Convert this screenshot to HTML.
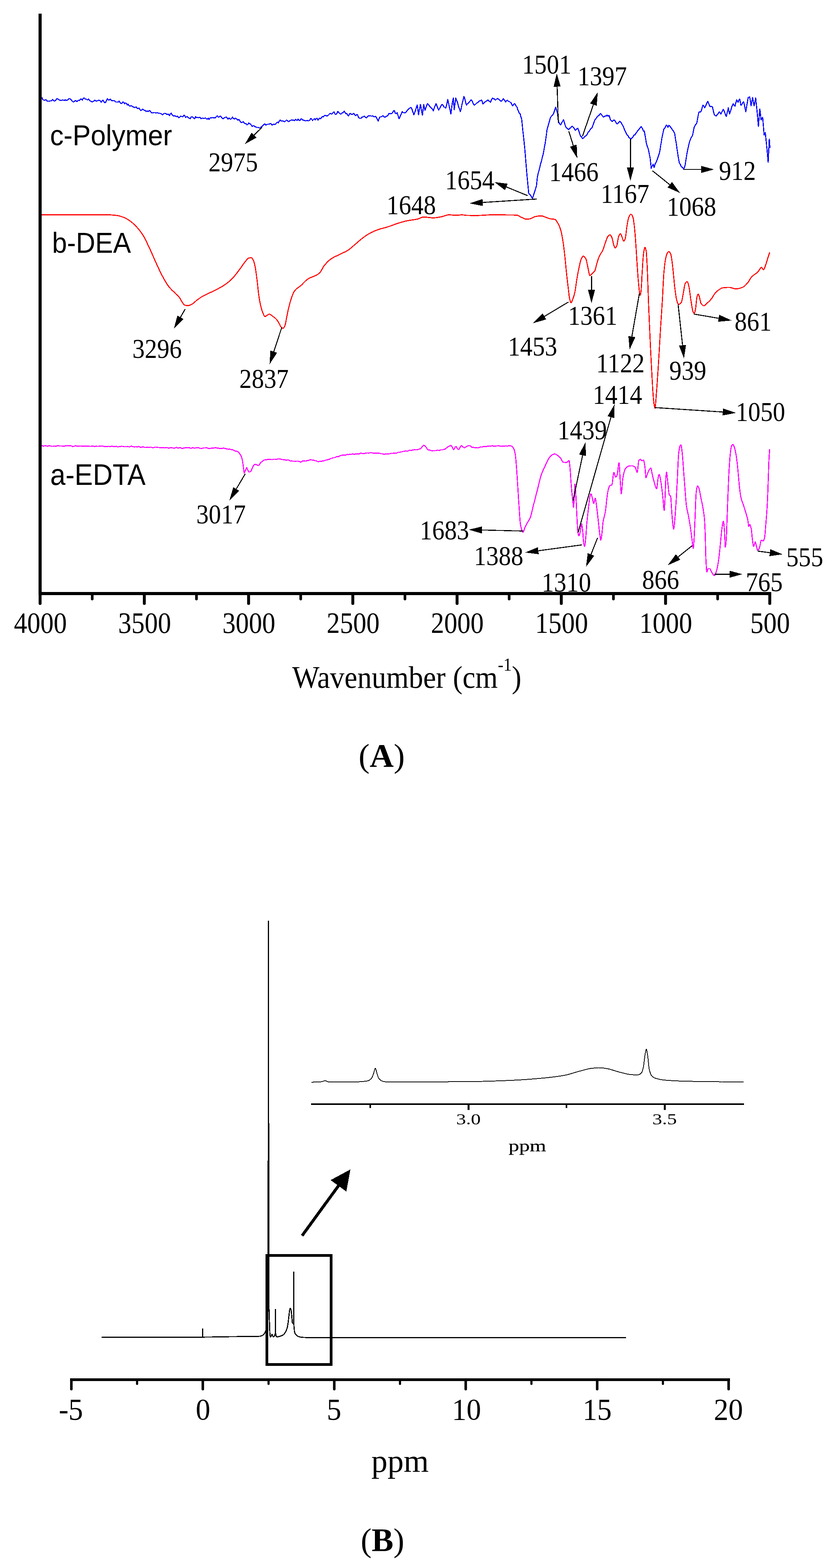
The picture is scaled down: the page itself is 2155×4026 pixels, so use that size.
<!DOCTYPE html>
<html lang="en">
<head>
<meta charset="utf-8">
<title>FTIR and NMR spectra</title>
<style>
html,body{margin:0;padding:0;background:#fff;}
body{width:2155px;height:4026px;overflow:hidden;}
svg{display:block;}
text{fill:#000;}
</style>
</head>
<body>
<svg width="2155" height="4026" viewBox="0 0 2155 4026" shape-rendering="crispEdges" style="display:block">
<rect width="2155" height="4026" fill="#fff"/>
<g id="chartA">
<polyline points="107.3,250 109.6,254.8 111.9,256.9 114.2,257.3 116.5,256.2 118.9,256.7 121.2,259.6 123.5,259.8 125.8,260.1 128.1,259.4 130.4,258.9 132.7,258.7 135,255.4 137.3,257.6 139.6,259.5 142,259 144.3,255.4 146.6,253.1 148.9,254.4 151.2,255.8 153.5,257.4 155.8,257.6 158.1,258.1 160.4,256.7 162.8,257 165.1,258 167.4,256.1 169.7,258 172,257.4 174.3,256.2 176.6,253.5 178.9,253 181.2,255 183.6,257.2 185.9,260.1 188.2,261.6 190.5,261.1 192.8,258.8 195.1,258.4 197.4,260.9 199.7,258.6 202,257.6 204.3,258.2 206.7,254.6 209,254.5 211.3,257.3 213.6,252.4 215.9,251.7 218.2,254.2 220.5,253.8 222.8,255.8 225.1,256.6 227.5,254.3 229.8,257.2 232.1,259.7 234.4,260.3 236.7,261.7 239,260.6 241.3,259.5 243.6,257.2 245.9,259.1 248.2,259.3 250.6,258.6 252.9,257.7 255.2,257.6 257.5,258.9 259.8,262.5 262.1,259.1 264.4,257.1 266.7,260.6 269,263.7 271.4,262.8 273.7,257.3 276,253.2 278.3,256.6 280.6,257 282.9,254.6 285.2,257 287.5,258.9 289.8,258.2 292.2,258.1 294.5,259.2 296.8,261.9 299.1,262.2 301.4,261.8 303.7,262.4 306,259.7 308.3,263 310.6,265.9 312.9,265.6 315.3,261.8 317.6,262.2 319.9,266.6 322.2,264.5 324.5,265.3 326.8,269.5 329.1,267.7 331.4,270.8 333.7,272.7 336.1,271.4 338.4,272.3 340.7,274.1 343,274.4 345.3,276.3 347.6,275.2 349.9,274.7 352.2,278.2 354.5,278.9 356.8,277.4 359.2,280.5 361.5,284 363.8,282.4 366.1,280 368.4,281.7 370.7,283.3 373,283.5 375.3,286.5 377.6,284.6 380,286.4 382.3,284.9 384.6,283.7 386.9,286.9 389.2,289.5 391.5,290 393.8,289.3 396.1,288.9 398.4,289.1 400.8,290.2 403.1,289.6 405.4,289.9 407.7,291.1 410,290.8 412.3,291.7 414.6,292.4 416.9,294.9 419.2,293.8 421.5,291.2 423.9,290.9 426.2,291.8 428.5,293.9 430.8,293.1 433.1,293.3 435.4,297.1 437.7,292 440,290.7 442.3,295 444.7,297.3 447,297.9 449.3,297.3 451.6,298.8 453.9,299.5 456.2,298 458.5,302.2 460.8,302 463.1,298.7 465.4,298.8 467.8,299.2 470.1,299.6 472.4,295.6 474.7,296.9 477,301.7 479.3,299.8 481.6,299.7 483.9,302.7 486.2,303.7 488.6,304.9 490.9,300.5 493.2,299.8 495.5,301.4 497.8,303.2 500.1,305.1 502.4,299.4 504.7,301.9 507,301.4 509.4,302.4 511.7,300.9 514,301.5 516.3,304.8 518.6,303.6 520.9,302.9 523.2,304.2 525.5,303.7 527.8,302.7 530.1,305.1 532.5,305.9 534.8,303.1 537.1,306.6 539.4,303.1 541.7,302.5 544,302.5 546.3,301.8 548.6,303 550.9,302.6 553.3,302.7 555.6,299.4 557.9,297.2 560.2,300.5 562.5,300.2 564.8,298.7 567.1,298.1 569.4,302.2 571.7,304.2 574,305 576.4,302 578.7,301.3 581,300.5 583.3,302.6 585.6,306 587.9,302.9 590.2,304.7 592.5,306.4 594.8,304.2 597.2,300.4 599.5,304.3 601.8,305.4 604.1,303.3 606.4,304.7 608.7,305.9 611,308.4 613.3,306.8 615.6,309.2 617.9,313.3 620.3,315 622.6,313.6 624.9,312.5 627.2,316.1 629.5,317.3 631.8,317.3 634.1,320.3 636.4,319.7 638.7,315.7 641.1,317.7 643.4,318 645.7,321.8 648,324.3 650.3,322.7 652.6,323.3 654.9,325.7 657.2,325.7 659.5,327.5 661.9,326.9 664.2,327.5 666.5,328.8 668.8,329 671.1,324.9 673.4,324.7 675.7,321.3 678,319.3 680.3,318 682.6,321.3 685,319.9 687.3,318.9 689.6,319.1 691.9,318.5 694.2,317.3 696.5,318 698.8,321.2 701.1,319.8 703.4,318.8 705.8,320 708.1,318.4 710.4,315.2 712.7,313.7 715,315.4 717.3,310.9 719.6,308.3 721.9,310.3 724.2,311 726.5,310.4 728.9,311.9 731.2,312.6 733.5,310.5 735.8,308.4 738.1,309.3 740.4,312.5 742.7,311.5 745,309.3 747.3,308.9 749.7,307.6 752,309 754.3,308.5 756.6,309.7 758.9,306.6 761.2,308.1 763.5,309 765.8,305.8 768.1,308.7 770.5,309.5 772.8,305.2 775.1,305.4 777.4,308.4 779.7,308.2 782,309.3 784.3,310.3 786.6,310 788.9,309.2 791.2,310.3 793.6,310 795.9,308.7 798.2,304 800.5,306.1 802.8,309.4 805.1,306.8 807.4,304.7 809.7,308.1 812,304.1 814.4,303.8 816.7,308.8 819,305 821.3,303.3 823.6,305.1 825.9,301.2 828.2,299.5 830.5,300.2 832.8,297.2 835.1,296.3 837.5,297.2 839.8,298 842.1,296.6 844.4,294.7 846.7,292.1 849,291.3 851.3,292.9 853.6,291.8 855.9,288.4 858.3,287.2 860.6,292.9 862.9,294 865.2,291.7 867.5,286.1 869.8,288.2 872.1,291.2 874.4,293.1 876.7,292.3 879.1,289.7 881.4,289.5 883.7,285.4 886,288.3 888.3,291.8 890.6,291.3 892.9,295.4 895.2,298.1 897.5,293.2 899.8,291.1 902.2,293.2 904.5,293.8 906.8,292.6 909.1,291 911.4,295.3 913.7,297.1 916,294.6 918.3,294.4 920.6,300.9 923,303.1 925.3,304.1 927.6,303.7 929.9,300.4 932.2,300.9 934.5,298.5 936.8,298.8 939.1,301.7 941.4,302.5 943.7,299.4 946.1,297.5 948.4,297.5 950.7,297 953,298 955.3,298.2 957.6,297.6 959.9,299.5 962.2,300.1 964.5,298.6 966.9,301.4 969.2,306.7 971.5,311.1 973.8,304.4 976.1,300 978.4,300 980.7,299.4 983,297.1 985.3,298.5 987.7,300.9 990,300.3 992.3,298.5 994.6,298 996.9,295.2 999.2,291.2 1001.5,292.3 1003.8,291.4 1006.1,292 1008.4,289.5 1010.8,284.1 1013.1,284.1 1015.4,291 1017.7,291.5 1020,289.1 1025,305 1026.6,302.3 1028.2,297.5 1029.8,294.3 1031.4,290.6 1033,286.7 1034.6,288.8 1036.2,289.2 1037.8,289 1040,290.1 1041,290.2 1042.6,287.9 1044.2,286.2 1045.9,283.7 1048,281.9 1049.1,280.8 1050.7,279.2 1052.3,277.6 1053.9,276.5 1055.5,276.5 1056.7,276.7 1058.7,282.1 1060.3,287 1061.9,290.8 1063,294.9 1065.1,289.1 1066.7,285.1 1068.3,279.5 1069.9,274.5 1071.7,269.7 1073.1,279.4 1075,294.7 1076.3,285.7 1077.9,279.4 1080,267.8 1081.1,274 1082.7,284 1085,296 1085.9,288.2 1088.3,268.1 1090.8,279.9 1091.7,283 1094,276.3 1095.6,271.8 1098,265.8 1100.4,268.5 1102,270.4 1103.6,273.4 1106,275.9 1108.4,277.4 1110,279.9 1111.6,281.2 1113,285.1 1114.8,279.1 1116.4,274.4 1118,270.8 1120,266.2 1121.2,268.4 1122.8,273.1 1124.4,277.2 1126.7,282.9 1127.6,280.7 1129.3,278.6 1130.9,274.9 1132.5,272 1134.1,269.9 1135,268.2 1137.3,269.3 1138.9,271.9 1140.5,274.9 1142.1,275.1 1143.7,276.7 1145,278 1146.9,270.3 1148.5,262.8 1150,255 1151.7,262.8 1153.3,270.3 1154.9,277.9 1156.5,285 1158,292.9 1159.7,281 1161.3,267.4 1162.9,258.8 1164.3,251.7 1166.7,281.7 1167.7,273.9 1169.3,261.6 1170.7,251.7 1172.6,257.3 1174,260 1175.8,265.2 1177.4,272.2 1179,277.3 1180.6,280.6 1182.3,286.9 1183.8,282.3 1185.4,273.9 1187,266.2 1188.6,260.5 1190.2,253.7 1191.7,247.8 1193.4,252.2 1195,258 1196.6,265 1198.3,270 1199.8,266.9 1201.4,266.1 1203,264.7 1204.6,263.1 1206.2,261.8 1207.8,259 1210,256 1211,257.7 1212.7,259.6 1214.3,263.2 1215.9,267.2 1218.3,270.1 1220.7,268.2 1222.3,266.8 1223.9,265.2 1225.5,263.8 1227.1,263 1228.7,261.7 1230.3,260.6 1231.9,258.8 1233.5,258.6 1235.1,258.1 1236.7,256.6 1238.3,259.3 1240,266.5 1241.5,266.4 1243.1,264.3 1244.7,262.4 1246.3,261.3 1247.9,261 1249.5,259.1 1251.1,258.7 1253.3,256.7 1254.4,258.2 1256,259.5 1257.6,260.4 1260,262.5 1262.4,256.3 1264,253.4 1265,251.8 1267.2,253.5 1268.8,253.6 1270.4,254.9 1272,256.9 1273.3,256.8 1275.2,254.8 1276.8,253.4 1278.3,252.8 1280,255 1281.6,255.1 1283.2,256.8 1284.8,258.2 1286.7,259.9 1288,259.3 1289.6,258.2 1291.2,255.2 1293.3,253.3 1294.5,255.7 1296.1,257.7 1298.3,261.6 1299.3,261.3 1300.9,258.4 1303.3,257.2 1305.7,259.9 1307.3,261.1 1308.9,260.8 1310.5,262.5 1312.1,263.6 1313.3,265 1315.3,269.7 1316.7,271.8 1318.5,269.1 1320.1,267 1321.7,266.1 1323.3,268 1324.9,270.6 1326.5,273.5 1328,275 1329.7,280.9 1331.3,284.3 1332.9,288.7 1335,291.9 1336.2,292.6 1337.8,299.4 1340,306.1 1341,315.9 1343,336.7 1344.2,346.1 1345.8,361 1348,382.8 1349,394.1 1350.6,414.6 1353,443.1 1355.4,469.1 1357,485.6 1358,496.6 1360.2,498.8 1361.8,500.3 1363,501.8 1365,504.9 1366.6,508.6 1367.7,509.3 1369.8,502.9 1371.7,496.7 1373,493.4 1374.6,488.2 1376.2,482.6 1378,476.8 1380,456.7 1381.1,451.1 1382.7,443.4 1384.3,438.7 1385.9,432 1388,422.9 1389.1,418.6 1390.7,414.4 1392.3,406.5 1393.9,400.3 1395,396.7 1397.1,385.7 1398.7,375.8 1400,369.8 1401.9,356.3 1403.5,345.6 1405,333.3 1406.7,327.2 1408.3,321.2 1409.9,316 1411.7,309.8 1413.1,303.9 1415,300 1416.3,298.9 1417.9,296.4 1419.6,295.2 1421.7,291.7 1422.8,288.5 1424.4,284 1426,278.9 1427.3,275.1 1429.2,281.8 1430.8,287.1 1431.7,290 1434,307.6 1435,313.1 1437.2,317 1438.8,319.8 1440,320.7 1442,317.5 1443.6,313.8 1445.2,311.6 1447.3,307.3 1448.4,310 1450,315.8 1451.6,321.5 1453,325.2 1454.8,328.2 1456.4,329.2 1458,329.9 1460,333 1461.3,332.4 1462.9,329.8 1464.5,329.3 1466.1,328.1 1467.7,325.5 1470,324 1472.5,326.6 1474.1,328.3 1475.7,331.7 1478,334.8 1478.9,333.4 1480.5,331.5 1482.1,330.8 1484,329 1485.3,332.7 1486.9,336.5 1488.5,341.4 1490,346.8 1491.7,350.2 1493.3,350.7 1494.9,354.2 1496,356.2 1498.1,354.3 1499.7,353.7 1501.3,351.3 1503,349.9 1504.6,348.9 1506.2,347.7 1507.8,345.9 1509.4,342.1 1511,338.6 1513,337.9 1514.2,335.3 1515.8,333.1 1517.4,330.4 1519,329.3 1520.6,327.8 1521.7,325.1 1523.8,319.6 1525.4,315 1527,310.5 1528,308 1530.2,305.3 1531.8,303.2 1533.4,300.4 1535,299.6 1536.7,296.2 1538.2,296.1 1539.8,295.4 1541.4,292.5 1542.7,291.4 1544.7,294.3 1546.3,296.4 1547.9,297.9 1550,300.7 1551.1,300.2 1552.7,298.7 1554.3,298.3 1555.9,297.8 1558,297.3 1559.1,295.6 1560.7,297.1 1562.3,298.4 1563.9,296.7 1565,297.8 1567.1,304.7 1568,308.1 1570.3,310 1571.9,312 1573,311.8 1575.1,309.4 1576.7,308 1578,308 1579.9,310.6 1581.5,313.4 1583.1,316.5 1585,318.1 1586.4,317.8 1588,315.7 1589.6,313.8 1592,311.6 1594.4,314.2 1596,315.7 1598,319.8 1599.2,321.4 1600.8,324.2 1602.4,328.5 1604,332.8 1605.6,335.7 1606.7,338.1 1608.8,343.2 1610.4,345.9 1612,347.6 1613.6,349.1 1615,353 1616.8,354.3 1618.4,355.2 1620,355.9 1621.7,356.2 1623.2,354.6 1624.8,352.9 1626.5,350.3 1628.1,346.7 1630,346.5 1631.3,346 1632.9,342.4 1634.5,340.9 1636.7,338 1637.7,336.1 1639.3,334.5 1640.9,332.7 1642.5,329.8 1644.1,328 1645.7,326.7 1646.7,325.1 1648.9,327.9 1650.5,331.2 1652.1,334.8 1653.7,337.6 1655,336.7 1656.9,347.8 1658.5,356.5 1660,366.6 1661.7,373.3 1663.3,377.7 1664.9,382.1 1666.7,389.9 1668.2,397.9 1670,406.7 1671.4,419.2 1672.7,432.4 1674.6,426.9 1676.2,424.8 1677.7,421.7 1680,430.2 1681,427.4 1682.6,421.3 1684.2,418.8 1685.8,415.3 1688,410 1689,407.3 1690.6,402.1 1692.2,397.4 1693.8,392.4 1695,386.6 1697,373.1 1698.6,365.2 1700,355.1 1701.8,346.9 1703.4,339.2 1705,331.4 1706.6,329.9 1708.2,327.9 1709.9,324.2 1711.7,321.1 1713.1,322.5 1714.7,324.3 1715.7,327.1 1718,321.8 1719.5,322.4 1721.1,324.8 1722.7,327 1725,329.2 1725.9,331.9 1727.5,333.6 1729.1,335.7 1730.7,338.7 1733,343 1733.9,349.4 1735.5,359.9 1736.7,365.3 1738.7,380.5 1741,396 1741.9,401.9 1743.5,410.7 1745,419 1746.7,421 1748.3,423.9 1750,428.1 1751.6,429.5 1753.2,429.7 1754.8,432.2 1755.7,434.2 1758,430.1 1760,423.1 1761.2,414.6 1763,403 1764.4,394.7 1766.7,382.9 1767.6,379.2 1769.2,371.7 1770.8,365.4 1772,361.6 1774,356.6 1775.6,352.7 1777.2,350.7 1779,347 1780.4,340.2 1782,331.1 1783,326.7 1785.2,323 1786.8,319.6 1788.4,318.3 1790,315 1791.7,305 1793.3,296.6 1795,287.9 1796.5,287.1 1798.1,287.7 1800,287.2 1801.3,284.4 1802.9,278.7 1804.5,272.7 1805.7,269.9 1807.7,272.3 1810,276.6 1810.9,275.5 1812.5,272.1 1814.1,268.1 1815.7,264.1 1818,259.9 1818.9,262.5 1820.5,265.9 1823,272.9 1825.3,274.1 1826.9,273.3 1828.5,273.5 1830,274.8 1831.7,282.6 1833.4,289.6 1835,295.1 1836.6,296.5 1838.2,297.3 1840,298.1 1841.4,295 1843,293.4 1844.6,292.3 1846.2,288.7 1848,287 1849.4,290.1 1851.7,292.9 1852.6,290.1 1854.2,287.4 1855.8,284 1857.7,280.7 1859,282.9 1860.6,286.6 1862.2,291.1 1863.8,295.4 1865.7,299.1 1867,293 1868.6,286.5 1870.7,276.8 1871.8,282.3 1874,293 1875.1,288.8 1876.7,284.3 1878.3,278.9 1879.9,273.4 1881.5,270 1883,266.6 1884.7,269 1886.3,270.5 1888,272.8 1889.5,265.3 1891.1,260.7 1892,256.1 1894.3,259.9 1895.7,262.8 1897.5,257.9 1899.1,255.2 1900,254 1903,270.2 1903.9,270.3 1905.5,267.7 1907.1,264.7 1908.7,262.2 1910,261.4 1911.9,268.5 1913.5,277.3 1915.7,287 1916.8,280.6 1918.4,269.7 1920,260.8 1921.7,250.1 1923.2,249.8 1924.8,249.6 1925.7,248.8 1928,263.2 1929,271.6 1931.2,260.8 1933,250.1 1934.4,257.1 1936,266.7 1937,271.6 1939.2,261.3 1941,251.7 1942.4,264.9 1944,279.9 1945,290 1948,324.8 1950.4,294.9 1951.7,280 1953.6,296.1 1955,307.9 1956.8,304.7 1959,301.7 1960.1,315.1 1961.7,334.6 1962.7,346.8 1965.7,340.2 1968.1,363.9 1970,382.8 1971.3,395.9 1973,416.7 1974.5,386.9 1976,356.8 1977.7,380.1" fill="none" stroke="#0000ff" stroke-width="2.7" stroke-linejoin="round"/>
<polyline points="107,551.7 108.5,551.7 110,551.7 111.5,551.7 113,551.7 114.5,551.7 116,551.7 117.5,551.7 119,551.7 120.5,551.7 122,551.7 123.5,551.7 125,551.7 126.5,551.7 128,551.7 129.5,551.7 131,551.7 132.5,551.7 134,551.7 135.5,551.7 137,551.7 138.5,551.7 140,551.7 141.5,551.7 143,551.7 144.6,551.7 146.1,551.7 147.6,551.7 149.1,551.7 150.6,551.7 152.1,551.7 153.6,551.7 155.1,551.7 156.6,551.7 158.1,551.7 159.6,551.7 161.1,551.7 162.6,551.7 164.1,551.7 165.6,551.7 167.1,551.7 168.6,551.7 170.1,551.7 171.6,551.7 173.1,551.7 174.6,551.7 176.1,551.7 177.6,551.7 179.1,551.7 180.6,551.7 182.1,551.7 183.6,551.7 185.1,551.7 186.6,551.7 188.1,551.7 189.6,551.7 191.1,551.7 192.6,551.7 194.1,551.7 195.6,551.7 197.1,551.7 198.6,551.7 200.1,551.7 201.6,551.7 203.1,551.7 204.6,551.7 206.1,551.7 207.6,551.7 209.1,551.7 210.6,551.7 212.1,551.7 213.6,551.7 215.1,551.7 216.6,551.7 218.1,551.7 219.7,551.7 221.2,551.7 222.7,551.7 224.2,551.7 225.7,551.7 227.2,551.7 228.7,551.7 230.2,551.7 231.7,551.7 233.2,551.7 234.7,551.7 236.2,551.7 237.7,551.7 239.2,551.7 240.7,551.7 242.2,551.7 243.7,551.7 245.2,551.7 246.7,551.7 248.2,551.7 249.7,551.7 251.2,551.7 252.7,551.7 254.2,551.7 255.7,551.7 257.2,551.7 258.7,551.7 260.2,551.7 261.7,551.7 263.2,551.7 264.7,551.7 266.2,551.7 267.7,551.7 269.2,551.7 270.7,551.7 272.2,551.7 273.7,551.7 275.2,551.7 276.7,551.7 278.2,551.7 279.7,551.7 280,551.7 281.2,551.7 282.7,551.7 284.2,551.8 285.7,551.9 287.2,552 288.7,552.1 290.2,552.2 291.7,552.4 293.2,552.5 294.8,552.7 296.3,552.8 297.8,553 299.3,553.2 300,553.3 300.8,553.4 302.3,553.6 303.8,553.9 305.3,554.2 306.8,554.6 308.3,555 309.8,555.4 311.3,555.9 312.8,556.4 314.3,556.9 315.8,557.4 316.7,557.7 317.3,557.9 318.8,558.5 320.3,559.2 321.8,559.9 323.3,560.7 324.8,561.5 326.3,562.4 327.8,563.3 329.3,564.3 330.8,565.2 332.3,566.2 333,566.7 333.8,567.3 335.3,568.3 336.8,569.5 338.3,570.7 339.8,571.9 341.3,573.3 342.8,574.6 344.3,576 345.8,577.5 347.3,579 348.8,580.5 350,581.7 350.3,582 351.8,583.6 353.3,585.3 354.8,587 356.3,588.8 357.8,590.7 359.3,592.6 360.8,594.5 362.3,596.6 363.8,598.7 365.3,600.9 366.7,603 366.8,603.2 368.3,605.7 369.9,608.3 371.4,611 372.9,613.9 374.4,616.9 375.9,620 377.4,623.1 378.9,626.3 380.4,629.4 381.9,632.6 383,635 383.4,635.8 384.9,639 386.4,642.3 387.9,645.6 389.4,649 390.9,652.4 392.4,655.9 393.9,659.3 395.4,662.7 396.9,666.1 398.4,669.5 399.9,672.8 400,673 401.4,676 402.9,679.3 404.4,682.6 405.9,685.9 407.4,689.1 408.9,692.3 410.4,695.5 411.9,698.6 413.4,701.7 414.9,704.6 416.4,707.5 416.7,708 417.9,710.2 419.4,713 420.9,715.7 422.4,718.4 423.9,721 425.4,723.6 426.9,726.1 428.4,728.5 429.9,730.7 431.4,732.9 432.9,734.9 433,735 434.4,736.8 435.9,738.6 437.4,740.3 438.9,741.9 440.4,743.5 441.9,745 443.4,746.5 445,747.9 446.5,749.4 448,750.9 449.5,752.4 450,753 451,754 452.5,755.4 454,756.9 455.5,758.3 457,759.7 458.5,761.2 460,762.9 461.5,764.7 461.7,765 463,766.9 464.5,769.6 466,772.5 467.5,775.3 469,777.7 470,779 470.5,779.5 472,781.2 473.5,782.7 475,783.7 476,784 476.5,784.1 478,784.2 479.5,784.4 481,784.5 482.5,784.5 483,784.5 484,784.4 485.5,784.2 487,783.7 488.5,783.1 490,782.5 491.5,781.7 493,781 493,781 494.5,780.2 496,779.1 497.5,778 499,776.7 500.5,775.3 502,774 503.5,772.6 505,771.3 506.5,770.1 506.7,770 508,769 509.5,767.9 511,766.9 512.5,765.8 514,764.8 515.5,763.8 517,762.8 518.6,761.9 520,761 520.1,761 521.6,760.1 523.1,759.3 524.6,758.5 526.1,757.8 527.6,757 529.1,756.3 530.6,755.6 532.1,754.9 533.6,754.2 535.1,753.5 536.6,752.8 538.1,752.1 539.6,751.4 541.1,750.7 542.6,750 544.1,749.3 545.6,748.6 546.7,748 547.1,747.8 548.6,747 550.1,746.3 551.6,745.5 553.1,744.8 554.6,744 556.1,743.3 557.6,742.5 559.1,741.8 560.6,741 562.1,740.2 563.6,739.4 565.1,738.6 566.6,737.8 568.1,737 569.6,736.1 571.1,735.2 572.6,734.3 574.1,733.4 575.6,732.4 576.7,731.7 577.1,731.4 578.6,730.4 580.1,729.3 581.6,728.2 583.1,727.1 584.6,725.9 586.1,724.6 587.6,723.4 589.1,722.1 590.6,720.8 592.1,719.4 593.7,718 595.2,716.5 596.7,715 596.7,715 598.2,713.5 599.7,711.8 601.2,710.1 602.7,708.3 604.2,706.5 605.7,704.6 607.2,702.6 608.7,700.7 610.2,698.7 611.7,696.7 613,695 613.2,694.8 614.7,692.8 616.2,690.7 617.7,688.6 619.2,686.5 620.7,684.3 622.2,682.2 623.7,680 625.2,677.9 626.7,675.9 628.2,673.9 629.7,672.1 630,671.7 631.2,670.2 632.7,668.2 634.2,666.2 635.7,664.5 637.2,663.4 638,663 638.7,662.8 640.2,662.4 641.7,662 643.2,661.8 644.7,661.7 645,661.7 646.2,662.1 647.7,663.5 649.2,665.5 650,666.7 650.7,668 652.2,672.2 653.7,677.6 655,683 655.2,684.1 656.7,692.6 658.2,703.3 659.7,714.7 660,716.7 661.2,727.2 662.7,741.2 664.2,754.5 665,760 665.7,764.8 667.2,773.6 668.8,781.2 670,786.7 670.3,787.7 671.8,793.4 673.3,798.4 674.8,802.4 675,803 676.3,805.9 677.8,809.3 679.3,811.8 680.7,812.7 680.8,812.7 682.3,812.2 683.8,811.2 685.3,810 686.7,809 686.8,809 688.3,808.1 689.8,807.2 691.3,806.7 691.7,806.7 692.8,806.8 694.3,807.5 695.8,808.4 697.3,809.6 698.8,810.8 700,811.7 700.3,811.9 701.8,813 703.3,814 704.8,815.2 706.3,816.4 707.8,817.8 709.3,819.3 710,820 710.8,820.9 712.3,823 713.8,825.3 715.3,827.7 716.7,830 716.8,830.2 718.3,833 719.8,836.2 721.3,839 722.7,840.7 722.8,840.8 724.3,842 725.8,842.8 726.7,843 727.3,842.9 728.8,841.6 730.3,839.3 731.7,836.7 731.8,836.4 733.3,831 734.8,823.1 736.3,814.8 736.7,813 737.8,807.3 739.3,800 740,797 740.8,793.4 742.3,787 743.9,781 745.4,775.3 746.9,770.2 748,766.7 748.4,765.7 749.9,761.5 751.4,757.4 752.9,753.8 754.4,750.5 755.9,747.9 756.7,746.7 757.4,745.9 758.9,744.2 760.4,742.6 761.9,741.3 763.4,740.1 764.9,739 766.4,738 767.9,736.9 769.4,735.9 770.9,734.7 772.4,733.5 773,733 773.9,732.2 775.4,730.8 776.9,729.3 778.4,727.7 779.9,726.2 781.4,724.7 782.9,723.1 784.4,721.7 785.9,720.3 787.4,719 788.9,717.8 790,717 790.4,716.7 791.9,715.8 793.4,714.9 794.9,714.1 796.4,713.4 797.9,712.7 799.4,712.1 800.9,711.5 802.4,710.9 803.9,710.3 805.4,709.7 806.9,709.1 808.4,708.5 809.9,707.8 811.4,707.1 812.9,706.4 814.4,705.5 815.9,704.6 817.4,703.6 819,702.5 820,701.7 820.5,701.3 822,699.6 823.5,697.5 825,695 826.5,692.4 828,689.7 829.5,687 831,684.5 832.5,682.4 833,681.7 834,680.5 835.5,678.8 837,677.1 838.5,675.4 840,673.8 841.5,672.3 843,670.8 844.5,669.4 846,668.1 847.5,666.9 849,665.7 850,665 850.5,664.7 852,663.7 853.5,662.7 855,661.9 856.5,661 858,660.2 859.5,659.5 861,658.7 862.5,658 864,657.3 865.5,656.6 867,655.9 868.5,655.2 870,654.5 871.5,653.7 873,653 873,653 874.5,652.2 876,651.5 877.5,650.8 879,650.1 880.5,649.4 882,648.7 883.5,648 885,647.3 886.5,646.6 888,645.8 889.5,645 891,644.2 892.6,643.3 893,643 894.1,642.3 895.6,641.3 897.1,640.2 898.6,639 900.1,637.8 901.6,636.6 903.1,635.3 904.6,634 906.1,632.7 907.6,631.4 909.1,630 910.6,628.7 912.1,627.5 913,626.7 913.6,626.2 915.1,625 916.6,623.7 918.1,622.4 919.6,621.1 921.1,619.8 922.6,618.4 924.1,617.1 925.6,615.9 927.1,614.6 928.6,613.4 930.1,612.2 931.6,611 933,610 933.1,609.9 934.6,608.8 936.1,607.8 937.6,606.7 939.1,605.7 940.6,604.7 942.1,603.7 943.6,602.7 945.1,601.8 946.6,600.8 948.1,599.9 949.6,599.1 951.1,598.3 952.6,597.5 953,597.3 954.1,596.7 955.6,596 957.1,595.3 958.6,594.6 960.1,594 961.6,593.3 963.1,592.7 964.6,592.1 966.1,591.5 967.7,590.9 969.2,590.4 970.7,589.8 972.2,589.3 973,589 973.7,588.8 975.2,588.3 976.7,587.8 978.2,587.4 979.7,587 981.2,586.6 982.7,586.2 984.2,585.8 985.7,585.4 987.2,585 988.7,584.6 990.2,584.2 991.7,583.8 993.2,583.3 994.7,582.9 996.2,582.5 996.7,582.3 997.7,582 999.2,581.5 1000.7,581 1002.2,580.4 1003.7,579.9 1005.2,579.4 1006.7,578.8 1008.2,578.2 1009.7,577.7 1011.2,577.1 1012.7,576.5 1014.2,576 1015.7,575.4 1017.2,574.9 1018.7,574.4 1020.2,573.9 1021.7,573.4 1023,573 1023.2,572.9 1024.7,572.5 1026.2,572 1027.7,571.6 1029.2,571.1 1030.7,570.7 1032.2,570.3 1033.7,569.9 1035.2,569.5 1036.7,569.1 1038.2,568.7 1039.7,568.3 1041.2,567.9 1042.8,567.6 1044.3,567.2 1045.8,566.9 1046.7,566.7 1047.3,566.6 1048.8,566.3 1050.3,566 1051.8,565.8 1053.3,565.5 1054.8,565.3 1056.3,565.1 1057.8,564.9 1059.3,564.7 1060.8,564.4 1062.3,564.2 1063.8,564 1065.3,563.8 1066.8,563.5 1068.3,563.3 1069.8,563 1071.3,562.7 1072.8,562.3 1073,562.3 1074.3,561.9 1075.8,561.4 1077.3,560.8 1078.8,560.1 1080.3,559.5 1081.8,558.8 1083.3,558.2 1084.8,557.8 1086.3,557.4 1087.8,557.3 1088,557.3 1089.3,557.3 1090.8,557.4 1092.3,557.5 1093.8,557.6 1095.3,557.7 1096.8,557.9 1098.3,558 1099.8,558.2 1101.3,558.4 1102.8,558.6 1104.3,558.7 1105.8,558.9 1107.3,559 1108.8,559.2 1110.3,559.2 1111.8,559.3 1113,559.3 1113.3,559.3 1114.8,559.3 1116.3,559.2 1117.9,559.1 1119.4,558.9 1120.9,558.7 1122.4,558.5 1123.9,558.3 1125.4,558 1126.9,557.8 1128.4,557.5 1129.9,557.3 1131.4,557 1132.9,556.7 1133,556.7 1134.4,556.4 1135.9,556.1 1137.4,555.6 1138.9,555.2 1140.4,554.7 1141.9,554.1 1143.4,553.6 1144.9,553.2 1146.4,552.7 1147.9,552.3 1149.4,552 1150.9,551.8 1152.4,551.7 1153,551.7 1153.9,551.7 1155.4,551.7 1156.9,551.8 1158.4,551.9 1159.9,552 1161.4,552.1 1162.9,552.2 1164.4,552.3 1165.9,552.4 1167.4,552.5 1168.9,552.6 1170.4,552.7 1171.9,552.7 1173,552.7 1173.4,552.7 1174.9,552.6 1176.4,552.5 1177.9,552.4 1179.4,552.2 1180.9,552.1 1182.4,551.9 1183.9,551.8 1185.4,551.7 1186.7,551.7 1186.9,551.7 1188.4,551.8 1189.9,551.9 1191.4,552.1 1193,552.3 1194.5,552.5 1196,552.7 1197.5,552.8 1199,553 1200,553 1200.5,553 1202,553 1203.5,553.1 1205,553.1 1206.5,553.1 1208,553.2 1209.5,553.2 1211,553.2 1212.5,553.2 1214,553.3 1215.5,553.3 1217,553.3 1218.5,553.3 1220,553.3 1221.5,553.3 1223,553.3 1223,553.3 1224.5,553.3 1226,553.3 1227.5,553.2 1229,553.2 1230.5,553.2 1232,553.1 1233.5,553 1235,553 1236.5,552.9 1238,552.8 1239.5,552.7 1241,552.6 1242.5,552.5 1244,552.4 1245.5,552.3 1247,552.3 1248.5,552.2 1250,552.1 1251.5,552 1253,551.9 1254.5,551.9 1256,551.8 1257.5,551.8 1259,551.7 1260.5,551.7 1262,551.7 1263,551.7 1263.5,551.7 1265,551.7 1266.6,551.7 1268.1,551.7 1269.6,551.7 1271.1,551.7 1272.6,551.7 1274.1,551.7 1275.6,551.7 1277.1,551.7 1278.6,551.7 1280.1,551.7 1281.6,551.7 1283.1,551.7 1284.6,551.7 1286.1,551.8 1287.6,551.8 1289.1,551.8 1290.6,551.8 1292.1,551.8 1293.6,551.8 1295.1,551.8 1296.6,551.8 1298.1,551.8 1299.6,551.9 1301.1,551.9 1302.6,551.9 1304.1,551.9 1305.6,551.9 1307.1,551.9 1308.6,552 1310.1,552 1311.6,552 1313.1,552 1314.6,552.1 1316.1,552.1 1317.6,552.1 1319.1,552.1 1320.6,552.2 1322.1,552.2 1323.6,552.2 1325.1,552.3 1326.6,552.3 1326.7,552.3 1328.1,552.5 1329.6,552.9 1331.1,553.5 1332.6,554.3 1334.1,555.1 1335.6,556 1337.1,556.9 1338.6,557.7 1340,558.3 1340.1,558.4 1341.7,559 1343.2,559.8 1344.7,560.5 1346.2,561.2 1347.7,561.9 1349.2,562.3 1350.7,562.6 1351.7,562.7 1352.2,562.7 1353.7,562.6 1355.2,562.5 1356.7,562.4 1358.2,562.2 1359.7,562 1361.2,561.8 1361.7,561.7 1362.7,561.5 1364.2,561 1365.7,560.3 1367.2,559.5 1368.7,558.7 1370.2,557.9 1371.7,557.1 1373.2,556.5 1374.7,556.1 1375,556 1376.2,555.8 1377.7,555.5 1379.2,555.3 1380.7,555.1 1382.2,554.8 1383.7,554.7 1385.2,554.5 1386.7,554.4 1388.2,554.3 1389.7,554.3 1390,554.3 1391.2,554.4 1392.7,554.6 1394.2,555 1395.7,555.5 1397.2,556.1 1398.7,556.7 1400.2,557.3 1401.7,557.9 1403,558.3 1403.2,558.4 1404.7,558.9 1406.2,559.5 1407.7,560.1 1409.2,560.6 1410.7,561.1 1412.2,561.5 1413,561.7 1413.7,561.8 1415.2,562 1416.8,562.2 1418.3,562.3 1419.8,562.5 1421.3,562.6 1422.8,562.8 1424.3,563.1 1425,563.3 1425.8,563.6 1427.3,564.8 1428.8,566.6 1430.3,568.8 1431.8,571.3 1433,573.3 1433.3,573.8 1434.8,576.5 1436.3,579.8 1437.8,583.5 1439.3,587.8 1440,590 1440.8,592.7 1442.3,599.1 1443.8,606.6 1445,613.3 1445.3,615 1446.8,624.8 1448.3,636 1449.8,648.3 1450,650 1451.3,662.1 1452.8,677.7 1454.3,693.3 1455,700 1455.8,707.4 1457.3,720.7 1458.8,733.4 1460,743.3 1460.3,745.9 1461.8,759.1 1463,766.7 1463.3,768 1464.8,773.9 1466.3,777.1 1466.7,777.3 1467.8,776.4 1469.3,773.3 1470.8,769.1 1471.7,766.7 1472.3,765 1473.8,760.7 1475.3,755.6 1476.7,750 1476.8,749.4 1478.3,740.5 1479.8,729.5 1481.3,718.9 1481.7,716.7 1482.8,710.1 1484.3,701.7 1485.8,694.1 1486.7,690 1487.3,687 1488.8,680 1490.3,673.5 1491.9,668 1493,665 1493.4,664.3 1494.9,661.2 1496.4,658.8 1497.9,657.7 1498,657.7 1499.4,658 1500.9,659.2 1502.4,660.9 1503.9,663.1 1505,665 1505.4,665.8 1506.9,671.3 1508.4,678.8 1509.9,686.2 1510,686.7 1511.4,693.6 1512.9,701.5 1514.4,706.7 1515,707.3 1515.9,707.1 1517.4,706.2 1518.9,704.7 1520.4,703.1 1521.7,701.7 1521.9,701.5 1523.4,700.2 1524.9,698.9 1526.4,697.3 1527.9,695.2 1528,695 1529.4,691.2 1530.9,685.1 1532.4,678.8 1533,676.7 1533.9,673.8 1535.4,669 1536.9,664.6 1538.4,660.5 1539.9,656.9 1540,656.7 1541.4,653.9 1542.9,651.5 1544.4,649.2 1545.9,646.9 1547.4,644.2 1548,643 1548.9,640.8 1550.4,636.7 1551.9,632.1 1553.4,627.4 1554.9,623.2 1555,623 1556.4,619 1557.9,614.7 1559.4,610.8 1560.9,607.7 1561.7,606.7 1562.4,605.9 1563.9,604.4 1565.4,603.3 1566.7,603 1567,603 1568.5,604.2 1570,606.5 1571.5,609.5 1571.7,610 1573,614 1574.5,620.9 1576,627.6 1576.7,630 1577.5,632.1 1579,635.7 1580,636.7 1580.5,636.6 1582,635.2 1583.5,632.7 1584,631.7 1585,628.4 1586.5,619.7 1588,610.9 1589,607 1589.5,605.9 1591,602.7 1592.5,600.5 1593.5,600 1594,600.2 1595.5,602.9 1597,606.8 1597.5,608 1598.5,610.7 1600,615.5 1601.5,618.7 1602,619 1603,618.5 1604.5,616.4 1606,613 1606,613 1607.5,604.1 1609,590.5 1610,583 1610.5,579.9 1612,570.9 1613.5,563.1 1615,558 1615,558 1616.5,554.7 1618,552 1619.5,550.3 1620.5,550 1621,550.1 1622.5,551.3 1624,553.6 1625.5,556.7 1625.5,556.8 1627,563.2 1628.5,574.1 1630,586.7 1630,587 1631.5,603.8 1633,624.5 1633.5,631 1634.5,647.1 1636,672.1 1637,686.7 1637.5,694.4 1639,714.8 1640.6,732.4 1641,736.7 1642.1,746.8 1643.6,757.5 1644,758.3 1645.1,756.1 1646.6,747.7 1646.7,746.7 1648.1,724.9 1649,706.7 1649.6,697.4 1651.1,672.3 1652.6,654 1652.7,653 1654.1,644 1655.6,636.9 1656.7,635 1657.1,635.2 1658.6,639.3 1660,646.7 1660.1,647.2 1661.6,669.2 1662.7,693 1663.1,701.7 1664.6,744.3 1665.5,770 1666.1,784.7 1667.6,820.6 1668,830 1669.1,854.4 1670.6,887.2 1672.1,917.9 1673,935 1673.6,945.9 1675.1,974 1676.6,1000.2 1678.1,1021.2 1679,1030 1679.6,1034.8 1681.1,1045 1682.3,1048.3 1682.6,1047.8 1684.1,1035.2 1685.6,1014.9 1686,1010 1687.1,995.8 1688.6,974.5 1690.1,951.5 1691.6,928 1691.7,926.7 1693.1,903.6 1694.6,877.9 1696.1,852.4 1696.7,843 1697.6,828.4 1699.1,805.7 1700.6,782.6 1701.7,765 1702.1,757 1703.6,725.8 1705,703 1705.1,701.4 1706.6,686 1708.1,673.7 1709.6,664.7 1710,663 1711.1,658.2 1712.6,653 1714.1,649.2 1715,648 1715.7,647.3 1717.2,646.2 1718,646 1718.7,646.2 1720.2,647.6 1721.7,650.1 1723,653 1723.2,653.4 1724.7,660.4 1726.2,671.5 1727.7,684 1728,686.7 1729.2,697.5 1730.7,713.6 1732.2,729.4 1733,736.7 1733.7,742.1 1735.2,753.8 1736.7,763.7 1738,770 1738.2,770.7 1739.7,775.9 1741.2,780 1742.7,781.7 1742.7,781.7 1744.2,781.5 1745.7,780.8 1747.2,779.7 1748.7,778.2 1750,776.7 1750.2,776.4 1751.7,771.3 1753.2,763.1 1754.7,754.5 1755,753 1756.2,746.3 1757.7,737.3 1759.2,730.1 1760,728 1760.7,726.9 1762.2,724.8 1763.7,723.4 1765,723 1765.2,723 1766.7,725.5 1768.2,730.2 1769,733 1769.7,736.1 1771.2,745.4 1772.7,756.8 1774.2,768 1775,773 1775.7,777.5 1777.2,787.1 1778.7,795.4 1780,800 1780.2,800.6 1781.7,803.8 1783,805 1783.2,804.9 1784.7,801.6 1786.2,795.2 1786.7,793 1787.7,784.4 1789.2,768.1 1790,763 1790.8,760 1792.3,755.7 1793,755 1793.8,755.5 1795.3,758.7 1796.7,763 1796.8,763.2 1798.3,770.5 1799.8,777.5 1800,778 1801.3,779.9 1802.8,781.9 1804.3,783.4 1805.8,784.4 1807.3,784.9 1808,785 1808.8,784.9 1810.3,784.2 1811.8,783 1813.3,781.5 1814.8,779.9 1816.3,778.4 1816.7,778 1817.8,777 1819.3,775.7 1820.8,774.3 1822.3,772.8 1823.8,771.3 1825.3,769.6 1826.7,768 1826.8,767.9 1828.3,765.9 1829.8,763.5 1831.3,761.1 1832.8,758.6 1834.3,756.2 1835.8,754.1 1836.7,753 1837.3,752.3 1838.8,750.7 1840.3,749.2 1841.8,747.8 1843.3,746.5 1844.8,745.3 1846.3,744.2 1846.7,744 1847.8,743.3 1849.3,742.3 1850.8,741.3 1852.3,740.5 1853.8,739.8 1855.3,739.3 1856.7,739 1856.8,739 1858.3,738.8 1859.8,738.7 1861.3,738.5 1862.8,738.4 1864.3,738.3 1865.9,738.2 1867.4,738.1 1868.9,738.1 1870.4,738 1871.9,738 1873,738 1873.4,738 1874.9,738.1 1876.4,738.4 1877.9,738.7 1879.4,739.2 1880.9,739.6 1882.4,740.1 1883.9,740.6 1885.4,741 1886.9,741.4 1888.4,741.6 1889.9,741.7 1890,741.7 1891.4,741.7 1892.9,741.6 1894.4,741.4 1895.9,741.1 1897.4,740.8 1898.9,740.5 1900.4,740.1 1901.9,739.6 1903.4,739.1 1904.9,738.6 1906.4,738.1 1906.7,738 1907.9,737.5 1909.4,736.6 1910.9,735.6 1912.4,734.4 1913.9,733.1 1915.4,731.6 1916.9,730 1918.4,728.4 1919.9,726.8 1920,726.7 1921.4,724.9 1922.9,722.6 1924.4,720.2 1925.9,717.6 1927.4,715.2 1928.9,713 1930,711.7 1930.4,711.2 1931.9,709.7 1933.4,708.4 1934.9,707.2 1936.4,706 1937.9,704.9 1939.4,703.9 1941,702.8 1942.5,701.7 1944,700.5 1945.5,699.2 1946.7,698 1947,697.7 1948.5,695.8 1950,693.4 1951.5,691 1953,688.9 1954.5,687.3 1956,686.7 1956,686.7 1957.5,688 1959,690.5 1960.5,692.5 1961,692.7 1962,692.1 1963.5,689.2 1965,684.9 1966.5,680.6 1966.7,680 1968,676.4 1969.5,671.6 1971,666.5 1972.5,661.6 1973,660 1974,657 1975.5,652.4 1977,648" fill="none" stroke="#ff0000" stroke-width="2.7" stroke-linejoin="round"/>
<polyline points="107,1144.6 109.2,1144.8 111.4,1145.6 113.6,1145 115.8,1144.2 118,1144.6 120.2,1145.2 122.4,1145.7 124.6,1144.7 126.8,1144.1 129,1145 131.3,1145.4 133.5,1145.9 135.7,1145.9 137.9,1145.3 140.1,1144.9 142.3,1146.2 144.5,1145.6 146.7,1144.6 148.9,1144.3 151.1,1144.8 153.3,1145.2 155.5,1145 157.7,1145 159.9,1145.2 162.1,1145.5 164.3,1145.8 166.5,1145.5 168.7,1144.3 170.9,1145 173.1,1144.7 175.3,1144.7 177.6,1144.4 179.8,1144.8 182,1144.8 184.2,1145.1 186.4,1146.8 188.6,1146.1 190.8,1145.6 193,1144.8 195.2,1144.7 197.4,1145.5 199.6,1145.4 201.8,1145.4 204,1145.4 206.2,1144.9 208.4,1145.3 210.6,1145.1 212.8,1146 215,1145.6 217.2,1145.5 219.4,1145.6 221.6,1145.8 223.9,1145.4 226.1,1145.7 228.3,1145.7 230.5,1146 232.7,1146.1 234.9,1145.7 237.1,1145.2 239.3,1145.7 241.5,1146 243.7,1146.4 245.9,1145.8 248.1,1145.7 250.3,1146 252.5,1145.9 254.7,1145.8 256.9,1145.8 259.1,1145.4 261.3,1145 263.5,1145.2 265.7,1145.9 267.9,1146.6 270.2,1146.6 272.4,1146.5 274.6,1146.4 276.8,1146.3 279,1146.1 281.2,1146.3 283.4,1146.9 285.6,1146.2 287.8,1145.5 290,1146.6 292.2,1146.6 294.4,1146.5 296.6,1146.7 298.8,1145.7 301,1146.8 303.2,1147.6 305.4,1146.6 307.6,1146.5 309.8,1146.4 312,1145.8 314.2,1145.9 316.5,1146.4 318.7,1146.9 320.9,1147 323.1,1146.6 325.3,1147.1 327.5,1146.5 329.7,1146.7 331.9,1147.3 334.1,1146.8 336.3,1145.8 338.5,1145.8 340.7,1146.7 342.9,1147.2 345.1,1147.8 347.3,1147 349.5,1146.8 351.7,1147.5 353.9,1147.3 356.1,1146.1 358.3,1147.1 360.5,1148.8 362.8,1148.6 365,1147.4 367.2,1147.2 369.4,1147.7 371.6,1149 373.8,1148.9 376,1148.2 378.2,1148.8 380.4,1148.5 382.6,1149 384.8,1148.5 387,1147.9 389.2,1148.6 391.4,1149.4 393.6,1149.3 395.8,1149 398,1147.9 400.2,1147.9 402.4,1148.4 404.6,1148.5 406.8,1149.1 409.1,1149.1 411.3,1149.4 413.5,1149.5 415.7,1149.1 417.9,1149.3 420.1,1149.6 422.3,1150 424.5,1149.5 426.7,1149.3 428.9,1148.9 431.1,1150 433.3,1150.8 435.5,1150.1 437.7,1149.5 439.9,1149.1 442.1,1149.6 444.3,1150.1 446.5,1151 448.7,1150.7 450.9,1149.7 453.1,1148.7 455.4,1150 457.6,1150.6 459.8,1149.4 462,1149.8 464.2,1149.4 466.4,1151.3 468.6,1151.7 470.8,1150.8 473,1150.3 475.2,1149.2 477.4,1149.6 479.6,1149.5 481.8,1150.1 484,1149.4 486.2,1149.3 488.4,1150.6 490.6,1151.4 492.8,1150.2 495,1149.3 497.2,1150.3 499.4,1151 501.7,1150.1 503.9,1149.8 506.1,1149.9 508.3,1149.6 510.5,1149.7 512.7,1150.8 514.9,1151.1 517.1,1151.6 519.3,1151 521.5,1150.4 523.7,1150 525.9,1150.1 528.1,1149.8 530.3,1149.3 532.5,1150.4 534.7,1151.4 536.9,1151.4 539.1,1151.4 541.3,1151.1 543.5,1150.4 545.7,1150.5 548,1150.5 550.2,1150.1 552.4,1149.6 554.6,1149.6 556.8,1150.4 559,1150.9 561.2,1150.7 563.4,1151.4 565.6,1151.4 567.8,1151.3 570,1151.7 572.2,1151 574.4,1150.1 576.6,1151.2 578.8,1151.5 581,1152.4 583.2,1152.8 585.4,1153.2 587.6,1153.7 589.8,1152.8 592,1153.8 594.3,1154.4 596.5,1154.5 598.7,1155.2 600.9,1156.5 603.1,1157.6 605.3,1158.5 607.5,1158.3 609.7,1159.3 611.9,1160.2 614.1,1162.5 616.3,1166 618.5,1169.1 620.7,1174.6 622.9,1183.1 625.1,1199.4 627.3,1214.8 629.5,1210.1 631.7,1204.4 633.9,1200.7 636.1,1206.1 638.3,1211.1 640.6,1212 642.8,1211 645,1209.2 647.2,1203.9 649.4,1198.6 651.6,1195 653.8,1192.8 656,1192.7 658.2,1192.7 660.4,1193.8 662.6,1195.3 664.8,1194.6 667,1192.2 669.2,1188.2 671.4,1186.2 673.6,1184.8 675.8,1182.9 678,1181.5 680.2,1180.8 682.4,1180.4 684.6,1181 686.9,1179.7 689.1,1179.6 691.3,1179.8 693.5,1179.4 695.7,1179.6 697.9,1180.1 700.1,1179.8 702.3,1179.3 704.5,1178.9 706.7,1178.9 708.9,1179.5 711.1,1179.1 713.3,1178.4 715.5,1178.1 717.7,1178.2 719.9,1178.2 722.1,1179.5 724.3,1180 726.5,1179.8 728.7,1180.7 730.9,1180.5 733.1,1181 735.4,1181.8 737.6,1181.1 739.8,1180.8 742,1181.5 744.2,1182.9 746.4,1184 748.6,1183.3 750.8,1184 753,1184.2 755.2,1184.1 757.4,1184.2 759.6,1184.5 761.8,1184 764,1184 766.2,1184.1 768.4,1184.8 770.6,1185.9 772.8,1186.5 775,1185.1 777.2,1183.4 779.4,1183.4 781.7,1183.2 783.9,1184.1 786.1,1183.9 788.3,1182.4 790.5,1182.4 792.7,1182.3 794.9,1180.8 797.1,1180.5 799.3,1180.8 801.5,1181 803.7,1181.5 805.9,1181.7 808.1,1182.4 810.3,1182.9 812.5,1183.1 814.7,1184.7 816.9,1185.3 819.1,1185.2 821.3,1184.3 823.5,1184.2 825.7,1184.8 828,1183.6 830.2,1183.6 832.4,1183 834.6,1182.3 836.8,1181.5 839,1180.8 841.2,1180.7 843.4,1179.6 845.6,1179.5 847.8,1178.3 850,1176.9 852.2,1177 854.4,1175.9 856.6,1175 858.8,1175.1 861,1174.8 863.2,1172.8 865.4,1172.3 867.6,1172.9 869.8,1172.4 872,1170.9 874.3,1169.8 876.5,1169.3 878.7,1168.6 880.9,1168.4 883.1,1168.4 885.3,1168.1 887.5,1168.5 889.7,1167.9 891.9,1166.7 894.1,1167.3 896.3,1166.8 898.5,1166.3 900.7,1166.4 902.9,1166.2 905.1,1165.6 907.3,1165.6 909.5,1166.8 911.7,1166 913.9,1165.2 916.1,1165.8 918.3,1165.8 920.6,1165.5 922.8,1165.4 925,1163.9 927.2,1163.5 929.4,1164 931.6,1164.3 933.8,1164.6 936,1164.3 938.2,1163.5 940.4,1163.3 942.6,1163.1 944.8,1163.1 947,1163.3 949.2,1162.8 951.4,1162.2 953.6,1162 955.8,1162.8 958,1163.4 960.2,1163.3 962.4,1163.3 964.6,1163.4 966.9,1163.2 969.1,1163.6 971.3,1163.3 973.5,1163.6 975.7,1164 977.9,1164.9 980.1,1165 982.3,1165.2 984.5,1165.8 986.7,1166.6 988.9,1166 991.1,1165.3 993.3,1166 995.5,1165.5 997.7,1165.5 999.9,1165.2 1002.1,1164.8 1004.3,1163.8 1006.5,1164.2 1008.7,1163.9 1010.9,1163 1013.2,1163.8 1015.4,1163.6 1017.6,1164.1 1019.8,1163 1022,1161.3 1024.2,1160.9 1026.4,1161.4 1028.6,1160.7 1030.8,1160.1 1033,1160 1035.2,1159 1037.4,1158.8 1039.6,1158.5 1041.8,1157.7 1044,1158.2 1046.2,1158.4 1048.4,1157.8 1050.6,1156.9 1052.8,1155.8 1055,1156.4 1057.2,1156.5 1059.5,1155.3 1061.7,1155.3 1063.9,1154.7 1066.1,1154.8 1068.3,1155 1070.5,1154.8 1072.7,1154.5 1074.9,1154 1077.1,1152.8 1079.3,1152.2 1081.5,1151 1083.7,1147.7 1085.9,1145 1088.1,1143 1090.3,1144.4 1092.5,1145.5 1094.7,1148.7 1096.9,1152.1 1099.1,1154.5 1101.3,1155.8 1103.5,1155.3 1105.8,1156.4 1108,1157.1 1110.2,1157.8 1112.4,1157.2 1114.6,1157.1 1116.8,1157.2 1119,1157 1121.2,1156.6 1123.4,1155.7 1125.6,1156.1 1127.8,1156.7 1130,1156 1132.2,1154.9 1134.4,1154.9 1136.6,1155 1138.8,1154.3 1141,1153.7 1143.2,1153.4 1145.4,1151.4 1147.6,1149.6 1149.8,1147.6 1152.1,1146.3 1154.3,1145.3 1156.5,1144.1 1158.7,1143.6 1160.9,1146.6 1163.1,1151.3 1165.3,1154.7 1167.5,1151.3 1169.7,1147 1171.9,1146.7 1174.1,1150.9 1176.3,1153.5 1178.5,1154.4 1180.7,1150.9 1182.9,1146.5 1185.1,1144.1 1187.3,1145.8 1189.5,1147.8 1191.7,1149.3 1193.9,1149.2 1196.1,1147.8 1198.4,1146.5 1200.6,1145.5 1202.8,1144.3 1205,1143.9 1207.2,1144.3 1209.4,1145.9 1211.6,1148.4 1213.8,1148.7 1216,1148.7 1218.2,1149.2 1220.4,1149.3 1222.6,1149.2 1224.8,1149.4 1227,1150.2 1229.2,1149.7 1231.4,1148.8 1233.6,1147.7 1235.8,1147.9 1238,1147.9 1240.2,1146.9 1242.4,1146.2 1244.7,1146.3 1246.9,1146.7 1249.1,1146.5 1251.3,1145.9 1253.5,1145.3 1255.7,1145.2 1257.9,1145.1 1260.1,1146 1262.3,1145.1 1264.5,1144.5 1266.7,1145.5 1268.9,1145.2 1271.1,1145.6 1273.3,1145.4 1275.5,1145.1 1277.7,1144.9 1279.9,1144.2 1282.1,1144.2 1284.3,1145.8 1286.5,1145.9 1288.7,1145.5 1291,1145.6 1293.2,1145.5 1295.4,1145.6 1297.6,1145.2 1299.8,1144.8 1302,1145.4 1304.2,1145.1 1306.4,1144.3 1308.6,1144.5 1310.8,1144.7 1313,1145.1 1314.2,1145.3 1315.4,1146.2 1316.6,1147.5 1317.8,1149.2 1319,1151.2 1320,1153 1320.2,1153.4 1321.4,1157 1322.6,1162.2 1323.8,1168.9 1324,1170 1325,1179.3 1326.2,1194.6 1327,1205 1327.4,1210.9 1328.6,1228.8 1329.8,1247.5 1330,1250 1331,1266.5 1332.2,1285.7 1333,1297 1333.4,1303.7 1334.7,1322.3 1335.9,1338.4 1336.7,1346 1337.1,1348.2 1338.3,1354.2 1339.5,1358.5 1340,1360 1340.7,1361.8 1341.9,1364.6 1343.1,1366.4 1343.5,1366.5 1344.3,1365.8 1345.5,1362.9 1346.7,1358.8 1347.9,1355.3 1348,1355 1349.1,1352.7 1350.3,1350.2 1351.5,1347.9 1352.7,1345.7 1353.9,1343.5 1355.1,1341.4 1356.3,1339.2 1357,1338 1357.5,1337.1 1358.7,1335.3 1359.9,1333.4 1361.1,1331.2 1361.7,1330 1362.3,1328.4 1363.5,1324.7 1364.7,1320.3 1365.9,1315.3 1367.1,1310.1 1368.3,1304.9 1369.5,1299.8 1370,1298 1370.7,1295.1 1371.9,1290.5 1373.1,1285.8 1374.3,1281.1 1375.6,1276.4 1376.8,1271.7 1378,1267 1379.2,1262.3 1380,1259 1380.4,1257.6 1381.6,1252.7 1382.8,1247.7 1384,1242.6 1385.2,1237.6 1386.4,1232.7 1387.6,1228.1 1388.8,1223.8 1390,1220 1390,1220 1391.2,1216.7 1392.4,1213.5 1393.6,1210.6 1394.8,1207.8 1396,1205.2 1397.2,1202.6 1398.4,1200.1 1399.6,1197.5 1400,1196.7 1400.8,1194.9 1402,1192.3 1403.2,1189.6 1404.4,1187 1405.6,1184.5 1406.8,1182 1408,1179.8 1409.2,1177.8 1410,1176.7 1410.4,1176.1 1411.6,1174.4 1412.8,1172.9 1414,1171.4 1415.2,1170.1 1416.4,1169 1417.7,1168.2 1418,1168 1418.9,1167.6 1420.1,1167 1421.3,1166.5 1422.5,1166.1 1423.7,1165.8 1424.9,1165.7 1425,1165.7 1426.1,1165.8 1427.3,1166.2 1428.5,1166.8 1429.7,1167.6 1430.9,1168.5 1432.1,1169.3 1433,1170 1433.3,1170.2 1434.5,1171.1 1435.7,1172.2 1436.9,1173.3 1438.1,1174.6 1439.3,1175.9 1440,1176.7 1440.5,1177.4 1441.7,1179.4 1442.9,1181.7 1444.1,1184 1445.3,1185.7 1446.5,1186.7 1446.7,1186.7 1447.7,1186.8 1448.9,1187 1450.1,1187.1 1451.3,1187.2 1452.5,1187.2 1453.7,1187.3 1454.9,1187.3 1455,1187.3 1456.1,1186.9 1457.3,1186 1458.6,1184.8 1459.8,1183.6 1461,1182.9 1461.7,1182.7 1462.2,1183.8 1463.4,1193.5 1464,1200 1464.6,1206.8 1465.8,1225.3 1466.3,1233 1467,1241.8 1468.2,1256.4 1468.5,1260 1469.4,1268.8 1470.6,1279.7 1471.7,1290 1471.8,1290.9 1473,1303 1473,1303 1474.2,1292.6 1475,1280 1475.4,1271.5 1476.6,1243.3 1476.7,1243 1477.8,1251.6 1479,1270 1480.2,1292.1 1481.4,1317.4 1481.7,1323 1482.6,1341.4 1483.8,1361.4 1484,1363 1485,1369.6 1486.2,1374.9 1487,1376 1487.4,1375.7 1488.6,1372.4 1489.8,1367 1490.7,1363 1491,1361.4 1492.2,1353.1 1493.4,1346.1 1494,1345 1494.6,1346.5 1495.8,1355.1 1496.7,1363 1497,1366.8 1498.2,1384.9 1499,1393 1499.4,1395.6 1500.7,1401.1 1501.7,1403 1501.9,1402.9 1503.1,1395.7 1504,1386.7 1504.3,1384.1 1505.5,1368 1506.7,1350.7 1507,1346.7 1507.9,1337.5 1509.1,1325.9 1510.3,1315.2 1511.5,1304.9 1511.7,1303 1512.7,1294.1 1513.9,1283.6 1515,1276.7 1515.1,1276.3 1516.3,1271.5 1517.5,1268.4 1518,1268 1518.7,1268.7 1519.9,1272.5 1521.1,1277.7 1521.7,1280 1522.3,1282.6 1523.5,1288.7 1524.7,1292.8 1525,1293 1525.9,1291.1 1527.1,1285.4 1528.3,1280.1 1529,1279 1529.5,1279.9 1530.7,1287.1 1531.9,1296.5 1532,1297 1533.1,1305.5 1534.3,1315.6 1535.5,1326.3 1536.7,1336.7 1536.7,1337 1537.9,1348.3 1539.1,1359.9 1540.3,1370.4 1540.7,1373 1541.6,1379.6 1542.8,1386.4 1543,1386.7 1544,1384.2 1545.2,1376.3 1546,1370 1546.4,1367 1547.6,1354 1548.8,1341.7 1549,1340 1550,1334.5 1551.2,1329.2 1552.4,1324.7 1553.6,1320.1 1554.8,1314.3 1555,1313 1556,1305.8 1557.2,1294.7 1558.4,1283 1559.6,1272.7 1560,1270 1560.8,1265.2 1562,1258.9 1563,1255 1563.2,1254.4 1564.4,1250.8 1565.6,1248.1 1566.7,1246.7 1566.8,1246.6 1568,1246.1 1569.2,1245.9 1570.4,1245.6 1571.6,1245 1571.7,1245 1572.8,1240.4 1574,1230.2 1575.2,1219.5 1576.4,1213.3 1576.7,1213 1577.6,1214.1 1578.8,1217.7 1580,1221.9 1581.2,1224.7 1581.7,1225 1582.4,1224.7 1583.7,1222.9 1584.9,1220.3 1585,1220 1586.1,1214.8 1587.3,1204.7 1588.5,1194.4 1589.7,1188.4 1590,1188 1590.9,1194.7 1592.1,1216.6 1593,1233 1593.3,1237.1 1594.5,1257.2 1595.7,1268 1595.7,1268 1596.9,1261.6 1598.1,1247.1 1599.3,1232.4 1600,1226.7 1600.5,1224.1 1601.7,1218.3 1602.9,1213.1 1604.1,1208.9 1605.3,1205.5 1606.5,1203.3 1606.7,1203 1607.7,1201.8 1608.9,1200.4 1610.1,1199.3 1611.3,1198.3 1612.5,1197.6 1613.7,1197 1614.9,1196.7 1615,1196.7 1616.1,1196.5 1617.3,1196.4 1618.5,1196.2 1619.7,1196.1 1620.9,1196.1 1622.1,1196 1623,1196 1623.3,1196 1624.6,1196.1 1625.8,1196.5 1627,1196.9 1628.2,1197.5 1629.4,1198.2 1630.6,1199.1 1631.7,1200 1631.8,1200.1 1633,1202.7 1634.2,1206.9 1635.4,1211 1636.6,1213 1636.7,1213 1637.8,1208 1639,1195.7 1640.2,1185 1640.7,1183 1641.4,1181.9 1642.6,1180.4 1643.8,1179.4 1645,1179 1646.2,1180.1 1647.4,1182 1648.3,1182.7 1648.6,1182.7 1649.8,1182.5 1651,1182.1 1652.2,1181.8 1653,1181.7 1653.4,1182.1 1654.6,1186.3 1655.8,1193.8 1656.7,1200 1657,1203.2 1658.2,1221 1659,1226.7 1659.4,1226.5 1660.6,1224 1661.8,1220.1 1663,1216.7 1663,1216.6 1664.2,1213.5 1665.4,1210.5 1666.7,1208.1 1666.7,1208 1667.9,1206 1669.1,1204 1670.3,1202.5 1671.5,1201.7 1671.7,1201.7 1672.7,1204 1673.9,1210.5 1675,1216.7 1675.1,1217 1676.3,1222.2 1677.5,1227.2 1678.7,1232 1679.9,1236.3 1680,1236.7 1681.1,1240.5 1682.3,1244.9 1683.5,1249.1 1684.7,1252.4 1685.9,1254.6 1686.7,1255 1687.1,1254.2 1688.3,1245.1 1689.5,1233.4 1690,1230 1690.7,1226.1 1691.9,1220.3 1693,1218 1693.1,1218 1694.3,1220.3 1695.5,1225.5 1696.7,1232.4 1697.9,1239.6 1698,1240 1699.1,1247.4 1700.3,1257 1701.5,1267.6 1702.7,1278.6 1703,1281 1703.9,1292 1705.1,1306.7 1706,1311 1706.3,1309.7 1707.6,1290.8 1708.5,1270 1708.8,1263.8 1710,1230.6 1710,1230 1711.2,1216.4 1712,1212.5 1712.4,1213.2 1713.6,1222.2 1714.8,1234.7 1715,1236.7 1716,1245.8 1717.2,1258.2 1718.4,1267.6 1719,1270 1719.6,1270.9 1720.8,1271.9 1722,1273.1 1722.5,1274 1723.2,1278.8 1724.4,1297.3 1725.5,1315 1725.6,1316.2 1726.8,1332.3 1728,1345 1729.2,1353.8 1730.4,1358.5 1730.5,1358.5 1731.6,1352.8 1732.8,1340 1733,1338 1734,1326.3 1735.2,1309.7 1736.4,1291.2 1736.5,1290 1737.6,1271 1738.8,1248.5 1740,1226 1740,1225.4 1741.2,1198.8 1742.4,1174 1743,1166.7 1743.6,1161.1 1744.8,1152.4 1746,1146.7 1746.7,1145 1747.2,1144.1 1748.4,1142.7 1749,1142.5 1749.7,1143.7 1750.9,1150.8 1752,1160 1752.1,1160.5 1753.3,1173.3 1754.5,1189.7 1755.7,1206.3 1755.7,1206.7 1756.9,1222 1758.1,1238.1 1759.3,1253.9 1760,1263 1760.5,1269.1 1761.7,1284.7 1762.9,1297.1 1763,1298 1764.1,1304.9 1765.3,1310.7 1766.5,1315.9 1767.7,1321.4 1768,1323 1768.9,1327.9 1770.1,1334.5 1771.3,1341.5 1772.5,1348.8 1773,1352 1773.7,1356.8 1774.9,1365.6 1776.1,1374.8 1777.3,1383.9 1777.7,1386.7 1778.5,1393.8 1779.7,1404.3 1780.7,1408 1780.9,1407.5 1782.1,1394.2 1783,1380 1783.3,1374.3 1784.5,1347.9 1785.7,1320 1785.7,1319.1 1786.9,1286.9 1788,1266.7 1788.1,1265.4 1789.3,1256.2 1790.6,1249.9 1791.7,1247.7 1791.8,1247.7 1793,1248.7 1794.2,1251.1 1795,1253 1795.4,1254 1796.6,1258.6 1797.8,1264.7 1799,1271.3 1800,1276.7 1800.2,1277.5 1801.4,1283.2 1802.6,1288.8 1803.8,1294.5 1805,1300.7 1806.2,1307.7 1806.7,1311 1807.4,1315.6 1808.6,1324.6 1809.8,1337.3 1810,1340 1811,1362 1811.7,1383 1812.2,1403 1813,1433 1813.4,1441.3 1814.6,1461.6 1815.7,1469 1815.8,1469 1817,1465.9 1818.2,1461.3 1819,1460 1819.4,1460 1820.6,1460 1821.8,1460 1823,1460 1823,1460 1824.2,1461 1825.4,1463.4 1826.6,1466.3 1827.8,1468.7 1828,1469 1829,1470.7 1830.2,1472.8 1831.4,1474.7 1832.7,1476.4 1833.9,1477.6 1835,1478 1835.1,1478 1836.3,1476.9 1837.5,1474.4 1838.7,1470.9 1839.9,1467.1 1840,1466.7 1841.1,1463 1842.3,1457.8 1843.5,1451.8 1844.7,1444.9 1845,1443 1845.9,1437 1847.1,1427.2 1848.3,1416.2 1849.5,1404.8 1850,1400 1850.7,1393.1 1851.9,1380 1853.1,1367.5 1854,1360 1854.3,1357.8 1855.5,1348.8 1856.7,1341.4 1857.9,1338 1858,1338 1859.1,1343.6 1860.3,1357.3 1860.7,1362 1861.5,1378.7 1862.7,1403.7 1863,1405 1863.9,1401.5 1865.1,1389.4 1865.7,1382 1866.3,1368.7 1867.5,1331.6 1867.7,1327 1868.7,1299 1869.9,1268.1 1870,1266.7 1871.1,1239 1872.3,1213 1872.7,1206.7 1873.6,1193 1874.8,1176.1 1876,1163.4 1876,1163 1877.2,1153.9 1878.4,1146.9 1879,1145 1879.6,1144.1 1880.8,1142.6 1882,1141.7 1882.7,1141.5 1883.2,1141.7 1884.4,1143.7 1885.6,1146.9 1886,1148 1886.8,1150.3 1888,1154.8 1889.2,1160.3 1890.4,1166.5 1891,1170 1891.6,1173.8 1892.8,1183 1894,1193.6 1895,1203 1895.2,1205 1896.4,1218.1 1897.6,1232.2 1898.8,1245 1899,1246.7 1900,1255.7 1901.2,1265.6 1902.4,1273.7 1903,1276.7 1903.6,1279.3 1904.8,1283.7 1906,1287.3 1907.2,1290.4 1908.4,1293.5 1909.6,1296.9 1910,1298 1910.8,1300.7 1912,1304.5 1913.2,1308.3 1914.4,1312.3 1915.7,1316.3 1916.7,1320 1916.9,1320.6 1918.1,1324.7 1919.3,1328.9 1920.5,1334 1921,1336.7 1921.7,1342.2 1922.9,1351.6 1923,1351.7 1924.1,1350 1925.3,1347 1925.7,1346.7 1926.5,1347.3 1927.7,1350.1 1928.9,1354.7 1930,1360 1930.1,1360.5 1931.3,1372.7 1932,1380 1932.5,1384 1933.7,1394 1934.9,1401.3 1935.7,1403 1936.1,1402.7 1937.3,1399.5 1938.5,1394.8 1939.7,1391.8 1940,1391.7 1940.9,1393.6 1942.1,1399.2 1943,1403 1943.3,1404.1 1944.5,1408.4 1945.7,1411.9 1946.7,1413 1946.9,1413 1948.1,1411.9 1949.3,1409.5 1950.5,1406.4 1951.7,1403 1951.7,1402.9 1952.9,1396.5 1954.1,1389.2 1955,1387 1955.3,1387 1956.6,1387.5 1957.8,1388.2 1959,1388.8 1960,1389 1960.2,1389 1961.4,1387.8 1962.6,1385 1963.8,1380.9 1964,1380 1965,1372.2 1966.2,1356.7 1966.7,1350 1967.4,1342.1 1968.6,1327.6 1969.5,1315 1969.8,1310.8 1971,1290.4 1971.5,1280 1972.2,1262.9 1973,1240 1973.4,1228.6 1974.6,1192.4 1975,1183 1975.8,1168.3 1977,1152.7" fill="none" stroke="#ff00ff" stroke-width="2.7" stroke-linejoin="round"/>
<rect x="99.3" y="34.8" width="7.5" height="1492.8" fill="#000"/>
<rect x="99.3" y="1519.5" width="1881.7" height="8.1" fill="#000"/>
<line x1="103.0" y1="1524" x2="103.0" y2="1549.5" stroke="#000" stroke-width="7.5" stroke-linecap="round" shape-rendering="geometricPrecision"/>
<line x1="236.9" y1="1524" x2="236.9" y2="1538" stroke="#000" stroke-width="6.8" stroke-linecap="round" shape-rendering="geometricPrecision"/>
<text transform="translate(35.8,1624.8) scale(0.888,1)" font-family='"Liberation Serif","Times New Roman",Times,serif' font-size="76.5">4000</text>
<line x1="370.7" y1="1524" x2="370.7" y2="1549.5" stroke="#000" stroke-width="7.5" stroke-linecap="round" shape-rendering="geometricPrecision"/>
<line x1="504.6" y1="1524" x2="504.6" y2="1538" stroke="#000" stroke-width="6.8" stroke-linecap="round" shape-rendering="geometricPrecision"/>
<text transform="translate(303.5,1624.8) scale(0.888,1)" font-family='"Liberation Serif","Times New Roman",Times,serif' font-size="76.5">3500</text>
<line x1="638.5" y1="1524" x2="638.5" y2="1549.5" stroke="#000" stroke-width="7.5" stroke-linecap="round" shape-rendering="geometricPrecision"/>
<line x1="772.4" y1="1524" x2="772.4" y2="1538" stroke="#000" stroke-width="6.8" stroke-linecap="round" shape-rendering="geometricPrecision"/>
<text transform="translate(571.3,1624.8) scale(0.888,1)" font-family='"Liberation Serif","Times New Roman",Times,serif' font-size="76.5">3000</text>
<line x1="906.2" y1="1524" x2="906.2" y2="1549.5" stroke="#000" stroke-width="7.5" stroke-linecap="round" shape-rendering="geometricPrecision"/>
<line x1="1040.1" y1="1524" x2="1040.1" y2="1538" stroke="#000" stroke-width="6.8" stroke-linecap="round" shape-rendering="geometricPrecision"/>
<text transform="translate(839.0,1624.8) scale(0.888,1)" font-family='"Liberation Serif","Times New Roman",Times,serif' font-size="76.5">2500</text>
<line x1="1174.0" y1="1524" x2="1174.0" y2="1549.5" stroke="#000" stroke-width="7.5" stroke-linecap="round" shape-rendering="geometricPrecision"/>
<line x1="1307.8" y1="1524" x2="1307.8" y2="1538" stroke="#000" stroke-width="6.8" stroke-linecap="round" shape-rendering="geometricPrecision"/>
<text transform="translate(1106.7,1624.8) scale(0.888,1)" font-family='"Liberation Serif","Times New Roman",Times,serif' font-size="76.5">2000</text>
<line x1="1441.7" y1="1524" x2="1441.7" y2="1549.5" stroke="#000" stroke-width="7.5" stroke-linecap="round" shape-rendering="geometricPrecision"/>
<line x1="1575.6" y1="1524" x2="1575.6" y2="1538" stroke="#000" stroke-width="6.8" stroke-linecap="round" shape-rendering="geometricPrecision"/>
<text transform="translate(1374.5,1624.8) scale(0.888,1)" font-family='"Liberation Serif","Times New Roman",Times,serif' font-size="76.5">1500</text>
<line x1="1709.5" y1="1524" x2="1709.5" y2="1549.5" stroke="#000" stroke-width="7.5" stroke-linecap="round" shape-rendering="geometricPrecision"/>
<line x1="1843.3" y1="1524" x2="1843.3" y2="1538" stroke="#000" stroke-width="6.8" stroke-linecap="round" shape-rendering="geometricPrecision"/>
<text transform="translate(1642.2,1624.8) scale(0.888,1)" font-family='"Liberation Serif","Times New Roman",Times,serif' font-size="76.5">1000</text>
<line x1="1977.2" y1="1524" x2="1977.2" y2="1549.5" stroke="#000" stroke-width="7.5" stroke-linecap="round" shape-rendering="geometricPrecision"/>
<text transform="translate(1927.0,1624.8) scale(0.888,1)" font-family='"Liberation Serif","Times New Roman",Times,serif' font-size="76.5">500</text>
<line x1="673.3" y1="326.7" x2="651.2" y2="348.3" stroke="#000" stroke-width="2.5"/>
<polygon points="629.0,370.0 646.3,340.5 658.9,353.4" fill="#000"/>
<line x1="1434.0" y1="316.0" x2="1431.0" y2="220.5" stroke="#000" stroke-width="2.5"/>
<polygon points="1430.0,188.4 1440.0,222.2 1422.0,222.8" fill="#000"/>
<line x1="1496.0" y1="350.0" x2="1524.8" y2="266.8" stroke="#000" stroke-width="2.5"/>
<polygon points="1535.4,236.5 1532.7,271.6 1515.7,265.7" fill="#000"/>
<line x1="1461.0" y1="337.0" x2="1473.2" y2="375.9" stroke="#000" stroke-width="2.5"/>
<polygon points="1482.8,406.5 1464.0,376.7 1481.2,371.3" fill="#000"/>
<line x1="1355.5" y1="502.5" x2="1298.7" y2="479.2" stroke="#000" stroke-width="2.5"/>
<polygon points="1270.0,467.5 1303.9,471.7 1297.1,488.3" fill="#000"/>
<line x1="1379.0" y1="511.0" x2="1237.9" y2="520.0" stroke="#000" stroke-width="2.5"/>
<polygon points="1205.9,522.1 1239.4,510.9 1240.5,528.9" fill="#000"/>
<line x1="1619.3" y1="357.3" x2="1619.3" y2="432.3" stroke="#000" stroke-width="2.5"/>
<polygon points="1619.3,464.4 1610.3,430.3 1628.3,430.3" fill="#000"/>
<line x1="1676.0" y1="438.5" x2="1721.9" y2="475.5" stroke="#000" stroke-width="2.5"/>
<polygon points="1746.9,495.7 1714.7,481.3 1726.0,467.3" fill="#000"/>
<line x1="1755.7" y1="435.0" x2="1803.3" y2="435.0" stroke="#000" stroke-width="2.5"/>
<polygon points="1834.3,435.0 1801.3,444.0 1801.3,426.0" fill="#000"/>
<line x1="475.5" y1="793.8" x2="462.5" y2="816.4" stroke="#000" stroke-width="2.5"/>
<polygon points="446.5,844.3 455.7,810.2 471.3,819.2" fill="#000"/>
<line x1="724.0" y1="840.0" x2="702.5" y2="904.9" stroke="#000" stroke-width="2.5"/>
<polygon points="692.4,935.3 694.6,900.1 711.6,905.8" fill="#000"/>
<line x1="1460.0" y1="775.5" x2="1396.6" y2="813.4" stroke="#000" stroke-width="2.5"/>
<polygon points="1369.1,829.9 1393.7,804.6 1402.9,820.1" fill="#000"/>
<line x1="1519.3" y1="709.3" x2="1519.3" y2="746.3" stroke="#000" stroke-width="2.5"/>
<polygon points="1519.3,778.4 1510.3,744.3 1528.3,744.3" fill="#000"/>
<line x1="1642.3" y1="753.3" x2="1622.6" y2="866.2" stroke="#000" stroke-width="2.5"/>
<polygon points="1617.1,897.8 1614.1,862.6 1631.8,865.7" fill="#000"/>
<line x1="1741.7" y1="780.7" x2="1753.4" y2="888.5" stroke="#000" stroke-width="2.5"/>
<polygon points="1756.8,920.4 1744.2,887.5 1762.1,885.5" fill="#000"/>
<line x1="1782.5" y1="806.5" x2="1847.7" y2="817.5" stroke="#000" stroke-width="2.5"/>
<polygon points="1879.4,822.9 1844.3,826.1 1847.3,808.3" fill="#000"/>
<line x1="1682.3" y1="1046.5" x2="1858.4" y2="1058.0" stroke="#000" stroke-width="2.5"/>
<polygon points="1890.4,1060.1 1855.8,1066.8 1857.0,1048.9" fill="#000"/>
<line x1="1471.7" y1="1286.3" x2="1496.9" y2="1167.0" stroke="#000" stroke-width="2.5"/>
<polygon points="1503.5,1135.6 1505.3,1170.8 1487.7,1167.1" fill="#000"/>
<line x1="1485.0" y1="1366.7" x2="1569.8" y2="1069.1" stroke="#000" stroke-width="2.5"/>
<polygon points="1578.6,1038.2 1577.9,1073.5 1560.6,1068.6" fill="#000"/>
<line x1="1495.0" y1="1399.0" x2="1380.7" y2="1414.4" stroke="#000" stroke-width="2.5"/>
<polygon points="1348.9,1418.6 1381.5,1405.2 1383.9,1423.0" fill="#000"/>
<line x1="1535.0" y1="1380.7" x2="1517.2" y2="1425.5" stroke="#000" stroke-width="2.5"/>
<polygon points="1505.3,1455.3 1509.5,1420.3 1526.3,1427.0" fill="#000"/>
<line x1="1343.5" y1="1363.5" x2="1236.0" y2="1360.8" stroke="#000" stroke-width="2.5"/>
<polygon points="1203.9,1360.0 1238.2,1351.8 1237.8,1369.8" fill="#000"/>
<line x1="630.0" y1="1216.5" x2="605.8" y2="1257.3" stroke="#000" stroke-width="2.5"/>
<polygon points="589.4,1284.9 599.1,1251.0 614.6,1260.2" fill="#000"/>
<line x1="1778.0" y1="1401.0" x2="1740.2" y2="1431.3" stroke="#000" stroke-width="2.5"/>
<polygon points="1715.1,1451.4 1736.1,1423.0 1747.4,1437.1" fill="#000"/>
<line x1="1835.0" y1="1474.3" x2="1875.7" y2="1474.3" stroke="#000" stroke-width="2.5"/>
<polygon points="1906.7,1474.3 1873.7,1483.3 1873.7,1465.3" fill="#000"/>
<line x1="1945.7" y1="1415.0" x2="1979.3" y2="1419.3" stroke="#000" stroke-width="2.5"/>
<polygon points="2010.0,1423.3 1976.1,1428.0 1978.4,1410.1" fill="#000"/>
<text transform="translate(535.6,439.7) scale(0.900,1)" font-family='"Liberation Serif","Times New Roman",Times,serif' font-size="70.5">2975</text>
<text transform="translate(1340.9,188.9) scale(0.900,1)" font-family='"Liberation Serif","Times New Roman",Times,serif' font-size="70.5">1501</text>
<text transform="translate(1483.4,219.2) scale(0.900,1)" font-family='"Liberation Serif","Times New Roman",Times,serif' font-size="70.5">1397</text>
<text transform="translate(1410.5,465.1) scale(0.900,1)" font-family='"Liberation Serif","Times New Roman",Times,serif' font-size="70.5">1466</text>
<text transform="translate(1143.2,486.0) scale(0.900,1)" font-family='"Liberation Serif","Times New Roman",Times,serif' font-size="70.5">1654</text>
<text transform="translate(992.8,550.0) scale(0.900,1)" font-family='"Liberation Serif","Times New Roman",Times,serif' font-size="70.5">1648</text>
<text transform="translate(1543.1,521.2) scale(0.900,1)" font-family='"Liberation Serif","Times New Roman",Times,serif' font-size="70.5">1167</text>
<text transform="translate(1712.8,553.6) scale(0.900,1)" font-family='"Liberation Serif","Times New Roman",Times,serif' font-size="70.5">1068</text>
<text transform="translate(1846.4,461.9) scale(0.900,1)" font-family='"Liberation Serif","Times New Roman",Times,serif' font-size="70.5">912</text>
<text transform="translate(340.1,918.7) scale(0.900,1)" font-family='"Liberation Serif","Times New Roman",Times,serif' font-size="70.5">3296</text>
<text transform="translate(614.7,996.4) scale(0.900,1)" font-family='"Liberation Serif","Times New Roman",Times,serif' font-size="70.5">2837</text>
<text transform="translate(1304.4,912.5) scale(0.900,1)" font-family='"Liberation Serif","Times New Roman",Times,serif' font-size="70.5">1453</text>
<text transform="translate(1458.9,833.5) scale(0.900,1)" font-family='"Liberation Serif","Times New Roman",Times,serif' font-size="70.5">1361</text>
<text transform="translate(1531.3,955.8) scale(0.900,1)" font-family='"Liberation Serif","Times New Roman",Times,serif' font-size="70.5">1122</text>
<text transform="translate(1719.0,974.8) scale(0.900,1)" font-family='"Liberation Serif","Times New Roman",Times,serif' font-size="70.5">939</text>
<text transform="translate(1886.8,849.1) scale(0.900,1)" font-family='"Liberation Serif","Times New Roman",Times,serif' font-size="70.5">861</text>
<text transform="translate(1889.9,1081.1) scale(0.900,1)" font-family='"Liberation Serif","Times New Roman",Times,serif' font-size="70.5">1050</text>
<text transform="translate(1522.6,1036.9) scale(0.900,1)" font-family='"Liberation Serif","Times New Roman",Times,serif' font-size="70.5">1414</text>
<text transform="translate(1432.0,1127.7) scale(0.900,1)" font-family='"Liberation Serif","Times New Roman",Times,serif' font-size="70.5">1439</text>
<text transform="translate(504.3,1343.7) scale(0.900,1)" font-family='"Liberation Serif","Times New Roman",Times,serif' font-size="70.5">3017</text>
<text transform="translate(1078.2,1385.1) scale(0.900,1)" font-family='"Liberation Serif","Times New Roman",Times,serif' font-size="70.5">1683</text>
<text transform="translate(1217.3,1450.9) scale(0.900,1)" font-family='"Liberation Serif","Times New Roman",Times,serif' font-size="70.5">1388</text>
<text transform="translate(1391.3,1519.3) scale(0.900,1)" font-family='"Liberation Serif","Times New Roman",Times,serif' font-size="70.5">1310</text>
<text transform="translate(1649.2,1512.4) scale(0.900,1)" font-family='"Liberation Serif","Times New Roman",Times,serif' font-size="70.5">866</text>
<text transform="translate(1915.4,1517.8) scale(0.900,1)" font-family='"Liberation Serif","Times New Roman",Times,serif' font-size="70.5">765</text>
<text transform="translate(2019.4,1454.4) scale(0.900,1)" font-family='"Liberation Serif","Times New Roman",Times,serif' font-size="70.5">555</text>
<text transform="translate(128.4,372.8) scale(0.955,1.02)" font-family='"Liberation Sans",Arial,Helvetica,sans-serif' font-size="73">c-Polymer</text>
<text transform="translate(133.7,648.7) scale(0.943,1.02)" font-family='"Liberation Sans",Arial,Helvetica,sans-serif' font-size="73">b-DEA</text>
<text transform="translate(129.0,1245.3) scale(0.964,1.05)" font-family='"Liberation Sans",Arial,Helvetica,sans-serif' font-size="73">a-EDTA</text>
<text transform="translate(750.5,1766) scale(0.917,1)" font-family='"Liberation Serif","Times New Roman",Times,serif' font-size="81">Wavenumber (cm<tspan font-size="47" dy="-44">-1</tspan><tspan dy="44">)</tspan></text>
<text x="921" y="1968.8" font-family='"Liberation Serif","Times New Roman",Times,serif' font-size="85.5">(<tspan font-weight="bold">A</tspan>)</text>
</g>
<g id="chartB">
<polyline points="261,3433.5 262,3433.5 263,3433.5 264,3433.5 265,3433.5 266,3433.5 267,3433.5 268,3433.5 269,3433.5 270,3433.5 271,3433.5 272,3433.5 273,3433.5 274,3433.5 275,3433.5 276,3433.5 277,3433.5 278,3433.5 279,3433.5 280,3433.5 281,3433.5 282,3433.5 283.1,3433.5 284.1,3433.5 285.1,3433.5 286.1,3433.5 287.1,3433.5 288.1,3433.5 289.1,3433.5 290.1,3433.5 291.1,3433.5 292.1,3433.5 293.1,3433.5 294.1,3433.5 295.1,3433.5 296.1,3433.5 297.1,3433.5 298.1,3433.5 299.1,3433.5 300.1,3433.5 301.1,3433.5 302.1,3433.5 303.1,3433.5 304.1,3433.5 305.1,3433.5 306.1,3433.5 307.1,3433.5 308.1,3433.5 309.1,3433.5 310.1,3433.5 311.1,3433.5 312.1,3433.5 313.1,3433.5 314.1,3433.5 315.1,3433.5 316.1,3433.5 317.1,3433.5 318.1,3433.5 319.1,3433.5 320.1,3433.5 321.1,3433.5 322.1,3433.5 323.1,3433.5 324.1,3433.5 325.2,3433.5 326.2,3433.5 327.2,3433.5 328.2,3433.5 329.2,3433.5 330.2,3433.5 331.2,3433.5 332.2,3433.5 333.2,3433.5 334.2,3433.5 335.2,3433.5 336.2,3433.5 337.2,3433.5 338.2,3433.5 339.2,3433.5 340.2,3433.5 341.2,3433.5 342.2,3433.5 343.2,3433.5 344.2,3433.5 345.2,3433.5 346.2,3433.5 347.2,3433.5 348.2,3433.4 349.2,3433.4 350.2,3433.4 351.2,3433.4 352.2,3433.4 353.2,3433.4 354.2,3433.4 355.2,3433.4 356.2,3433.4 357.2,3433.4 358.2,3433.4 359.2,3433.4 360.2,3433.4 361.2,3433.4 362.2,3433.4 363.2,3433.4 364.2,3433.4 365.2,3433.4 366.2,3433.4 367.2,3433.4 368.3,3433.4 369.3,3433.4 370.3,3433.4 371.3,3433.4 372.3,3433.4 373.3,3433.4 374.3,3433.4 375.3,3433.4 376.3,3433.4 377.3,3433.4 378.3,3433.4 379.3,3433.4 380.3,3433.4 381.3,3433.4 382.3,3433.4 383.3,3433.4 384.3,3433.4 385.3,3433.4 386.3,3433.4 387.3,3433.4 388.3,3433.4 389.3,3433.4 390.3,3433.4 391.3,3433.4 392.3,3433.4 393.3,3433.4 394.3,3433.4 395.3,3433.4 396.3,3433.4 397.3,3433.4 398.3,3433.4 399.3,3433.4 400,3433.4 400.3,3433.4 401.3,3433.4 402.3,3433.4 403.3,3433.4 404.3,3433.4 405.3,3433.4 406.3,3433.4 407.3,3433.4 408.3,3433.4 409.3,3433.4 410.4,3433.4 411.4,3433.4 412.4,3433.4 413.4,3433.4 414.4,3433.4 415.4,3433.4 416.4,3433.4 417.4,3433.4 418.4,3433.4 419.4,3433.4 420.4,3433.4 421.4,3433.4 422.4,3433.4 423.4,3433.4 424.4,3433.4 425.4,3433.4 426.4,3433.4 427.4,3433.4 428.4,3433.4 429.4,3433.4 430.4,3433.4 431.4,3433.4 432.4,3433.4 433.4,3433.4 434.4,3433.4 435.4,3433.4 436.4,3433.4 437.4,3433.4 438.4,3433.4 439.4,3433.4 440.4,3433.4 441.4,3433.4 442.4,3433.4 443.4,3433.4 444.4,3433.4 445.4,3433.4 446.4,3433.4 447.4,3433.4 448.4,3433.4 449.4,3433.3 450.4,3433.3 451.4,3433.3 452.4,3433.3 453.5,3433.3 454.5,3433.3 455.5,3433.3 456.5,3433.3 457.5,3433.3 458.5,3433.3 459.5,3433.3 460.5,3433.3 461.5,3433.3 462.5,3433.3 463.5,3433.3 464.5,3433.3 465.5,3433.3 466.5,3433.3 467.5,3433.3 468.5,3433.3 469.5,3433.3 470.5,3433.3 471.5,3433.3 472.5,3433.3 473.5,3433.3 474.5,3433.3 475.5,3433.3 476.5,3433.3 477.5,3433.3 478.5,3433.3 479.5,3433.3 480.5,3433.3 481.5,3433.3 482.5,3433.3 483.5,3433.3 484.5,3433.3 485.5,3433.3 486.5,3433.3 487.5,3433.3 488.5,3433.3 489.5,3433.3 490.5,3433.3 491.5,3433.3 492.5,3433.3 493.5,3433.3 494.5,3433.3 495.6,3433.3 496.6,3433.3 497.6,3433.3 498.6,3433.3 499.6,3433.3 500.6,3433.3 501.6,3433.3 502.6,3433.3 503.6,3433.2 504.6,3433.2 505.6,3433.2 506.6,3433.2 507.6,3433.2 508.6,3433.2 509.6,3433.2 510.6,3433.2 511.6,3433.2 512.6,3433.2 513.6,3433.2 514.6,3433.2 515.6,3433.2 516.6,3433.2 517.6,3433.2 518.6,3433.2 519,3433.2 519.6,3433.2 520.6,3433.2 521.6,3433.2 522.6,3433.2 523.6,3433.2 524.6,3433.2 525.6,3433.2 526.6,3433.1 527.6,3433.1 528.6,3433.1 529.6,3433.1 530.6,3433.1 531.6,3433.1 532.6,3433.1 533.6,3433 534.6,3433 535.6,3433 536.6,3433 537.6,3433 538.7,3433 539.7,3432.9 540.7,3432.9 541.7,3432.9 542.7,3432.9 543.7,3432.9 544.7,3432.9 545.7,3432.8 546.7,3432.8 547.7,3432.8 548.7,3432.8 549.7,3432.8 550.7,3432.7 551.7,3432.7 552.7,3432.7 553.7,3432.7 554.7,3432.7 555.7,3432.7 556.7,3432.6 557.7,3432.6 558.7,3432.6 559.7,3432.6 560,3432.6 560.7,3432.6 561.7,3432.6 562.7,3432.6 563.7,3432.5 564.7,3432.5 565.7,3432.5 566.7,3432.5 567.7,3432.5 568.7,3432.5 569.7,3432.5 570.7,3432.4 571.7,3432.4 572.7,3432.4 573.7,3432.4 574.7,3432.4 575.7,3432.4 576.7,3432.3 577.7,3432.3 578.7,3432.3 579.7,3432.3 580.8,3432.3 581.8,3432.3 582.8,3432.2 583.8,3432.2 584.8,3432.2 585.8,3432.2 586.8,3432.2 587.8,3432.2 588.8,3432.1 589.8,3432.1 590.8,3432.1 591.8,3432.1 592.8,3432.1 593.8,3432.1 594.8,3432 595.8,3432 596.8,3432 597.8,3432 598.8,3432 599.8,3432 600.8,3432 601.8,3431.9 602.8,3431.9 603.8,3431.9 604.8,3431.9 605.8,3431.9 606.8,3431.9 607.8,3431.9 608.8,3431.8 609.8,3431.8 610.8,3431.8 611.8,3431.8 612.8,3431.8 613.8,3431.8 614.8,3431.8 615.8,3431.7 616.8,3431.7 617.8,3431.7 618.8,3431.7 619.8,3431.7 620.8,3431.7 621.8,3431.7 622.8,3431.7 623.9,3431.7 624.9,3431.7 625.9,3431.7 626.9,3431.6 627.9,3431.6 628.9,3431.6 629.9,3431.6 630.9,3431.6 631.9,3431.6 632.9,3431.6 633.9,3431.6 634.9,3431.6 635.9,3431.6 636.9,3431.6 637.9,3431.6 638.9,3431.6 639.9,3431.6 640,3431.6 640.9,3431.6 641.9,3431.6 642.9,3431.6 643.9,3431.6 644.9,3431.6 645.9,3431.6 646.9,3431.6 647.9,3431.6 648.9,3431.6 649.9,3431.6 650.9,3431.6 651.9,3431.6 652.9,3431.6 653.9,3431.6 654.9,3431.6 655.9,3431.6 656.9,3431.6 657.9,3431.6 658.9,3431.6 659.9,3431.6 660,3431.6 660.9,3431.6 661.9,3431.5 662.9,3431.5 663.9,3431.4 664.9,3431.2 666,3431.1 667,3431 668,3430.8 668,3430.8 669,3430.6 670,3430.4 671,3430.1 672,3429.7 673,3429.3 674,3428.8 674,3428.8 675,3428.2 676,3427.5 677,3426.6 678,3425.5 678,3425.5 679,3424.2 680,3422.5 680.5,3421.5 681,3420.6 682,3418.4 682.5,3417 683,3415.4 684,3411.1 685,3405 685,3405 686,3394.7 687,3380" fill="none" stroke="#000" stroke-width="2.7" stroke-linejoin="round"/>
<line x1="520.5" y1="3411" x2="520.5" y2="3433" stroke="#000" stroke-width="2.4"/>
<polygon points="688,2364 691,2364 691,2884 692,2884 692,3368 687,3368 687,2980 688,2980" fill="#000"/>
<polyline points="690.6,3340 691.1,3361.3 691.3,3368 691.6,3380.4 692,3392 692.2,3397.1 692.7,3411.5 692.8,3414 693.2,3423.6 693.5,3428 693.7,3430.2 694.3,3433 694.3,3433 694.8,3432.9 695.3,3432.6 695.5,3432.5 695.8,3432 696.4,3430.7 696.9,3429.3 697,3429 697.4,3428.2 697.9,3427.1 698.5,3426.4 698.7,3426.3 699,3426.5 699.5,3427.5 700,3428.8 700.3,3429.5 700.5,3430.1 701.1,3431.5 701.6,3432.5 701.7,3432.5 702.1,3432.4 702.6,3432.2 703.2,3431.9 703.7,3431.5 704.2,3431 704.2,3431 704.7,3430.4 705.3,3429.6 705.5,3429 705.8,3427.8 706.3,3424" fill="none" stroke="#000" stroke-width="2.8" stroke-linejoin="round"/>
<line x1="707.5" y1="3361" x2="707.5" y2="3430" stroke="#000" stroke-width="3"/>
<polyline points="708.6,3424 709.1,3429 709.4,3430.5 709.6,3430.9 710.1,3431.6 710.6,3432.1 711.1,3432.4 711.6,3432.5 711.7,3432.5 712.1,3432.5 712.7,3432.4 713.2,3432.4 713.7,3432.3 714.2,3432.2 714.7,3432.1 715.2,3432 715.7,3431.9 716,3431.8 716.2,3431.8 716.7,3431.7 717.2,3431.5 717.7,3431.4 718.2,3431.3 718.7,3431.2 719.2,3431 719.8,3430.9 720,3430.8 720.3,3430.7 720.8,3430.5 721.3,3430.4 721.8,3430.2 722.3,3430 722.8,3429.8 723.3,3429.5 723.8,3429.3 724,3429.2 724.3,3429.1 724.8,3428.8 725.3,3428.6 725.8,3428.3 726.3,3428 726.8,3427.7 727.4,3427.4 727.9,3427 728.3,3426.7 728.4,3426.6 728.9,3426.2 729.4,3425.7 729.9,3425.1 730.4,3424.5 730.9,3423.8 731.4,3423.1 731.9,3422.3 732.4,3421.5 732.9,3420.6 733.3,3420 733.4,3419.8 733.9,3418.9 734.4,3417.9 735,3416.9 735.5,3415.7 736,3414.5 736.5,3413.2 737,3411.7 737.5,3410 737.5,3410 738,3408.1 738.5,3405.7 739,3402.9 739.5,3399.8 740,3396.7 740,3396.5 740.5,3392.7 741,3388.3 741.5,3383.5 742.1,3378.8 742.5,3375 742.6,3374.5 743.1,3370.2 743.6,3366 744.1,3363 744.2,3362.5 744.6,3361.3 745.1,3360 745.6,3359.3 745.8,3359.2 746.1,3359.4 746.6,3360.2 747.1,3361.7 747.6,3363.5 747.8,3364.2 748.1,3366.1 748.6,3370.6 749.1,3376.2 749.5,3380 749.7,3381.7 750.2,3388.8 750.7,3394.3 750.8,3395 751.2,3396.1 751.7,3397.1 752.2,3397.5 752.2,3397.5 752.7,3397.1 753.2,3396" fill="none" stroke="#000" stroke-width="2.8" stroke-linejoin="round"/>
<line x1="754.2" y1="3265" x2="754.2" y2="3402" stroke="#000" stroke-width="3"/>
<polyline points="754.6,3396 755.2,3407 755.3,3408.3 755.8,3413.7 756.4,3418.6 756.7,3420 757,3421 757.6,3422.7 758.2,3424.1 758.8,3425.1 759.4,3426 760,3426.7 760,3426.7 760.6,3427.4 761.2,3428 761.8,3428.6 762.4,3429.1 763,3429.6 763.6,3430.1 764.2,3430.5 764.8,3430.9 765.4,3431.2 766,3431.4 766.6,3431.7 766.7,3431.7 767.2,3431.9 767.8,3432 768.4,3432.2 769,3432.4 769.6,3432.5 770.2,3432.7 770.8,3432.8 771.4,3433 772,3433.1 772.6,3433.2 773.2,3433.3 773.8,3433.4 774.4,3433.5 775,3433.5 775.6,3433.6 776.2,3433.7 776.7,3433.7 776.8,3433.7 777.4,3433.8 778,3433.8 778.6,3433.8 779.2,3433.9 779.8,3433.9 780.4,3434 781,3434 781.6,3434 782.2,3434.1 782.8,3434.1 783.4,3434.1 784,3434.2 784.6,3434.2 785.2,3434.2 785.8,3434.3 786.4,3434.3 787,3434.3 900,3434.6 1608.5,3434.4" fill="none" stroke="#000" stroke-width="2.7" stroke-linejoin="round"/>
<rect x="685.6" y="3223.4" width="164.8" height="279.9" fill="none" stroke="#000" stroke-width="6.8"/>
<line x1="776" y1="3172.7" x2="871.1" y2="3042.3" stroke="#000" stroke-width="7.6"/>
<polygon points="900,3002.7 889.6,3059.4 849.2,3030.0" fill="#000"/>
<rect x="180" y="3538.5" width="1695" height="7" fill="#000"/>
<line x1="183.3" y1="3542" x2="183.3" y2="3566.8" stroke="#000" stroke-width="6.5" stroke-linecap="round" shape-rendering="geometricPrecision"/>
<line x1="352.1" y1="3542" x2="352.1" y2="3553.2" stroke="#000" stroke-width="5.5" stroke-linecap="round" shape-rendering="geometricPrecision"/>
<line x1="520.9" y1="3542" x2="520.9" y2="3566.8" stroke="#000" stroke-width="6.5" stroke-linecap="round" shape-rendering="geometricPrecision"/>
<line x1="689.8" y1="3542" x2="689.8" y2="3553.2" stroke="#000" stroke-width="5.5" stroke-linecap="round" shape-rendering="geometricPrecision"/>
<line x1="858.6" y1="3542" x2="858.6" y2="3566.8" stroke="#000" stroke-width="6.5" stroke-linecap="round" shape-rendering="geometricPrecision"/>
<line x1="1027.4" y1="3542" x2="1027.4" y2="3553.2" stroke="#000" stroke-width="5.5" stroke-linecap="round" shape-rendering="geometricPrecision"/>
<line x1="1196.2" y1="3542" x2="1196.2" y2="3566.8" stroke="#000" stroke-width="6.5" stroke-linecap="round" shape-rendering="geometricPrecision"/>
<line x1="1365.0" y1="3542" x2="1365.0" y2="3553.2" stroke="#000" stroke-width="5.5" stroke-linecap="round" shape-rendering="geometricPrecision"/>
<line x1="1533.9" y1="3542" x2="1533.9" y2="3566.8" stroke="#000" stroke-width="6.5" stroke-linecap="round" shape-rendering="geometricPrecision"/>
<line x1="1702.7" y1="3542" x2="1702.7" y2="3553.2" stroke="#000" stroke-width="5.5" stroke-linecap="round" shape-rendering="geometricPrecision"/>
<line x1="1871.5" y1="3542" x2="1871.5" y2="3566.8" stroke="#000" stroke-width="6.5" stroke-linecap="round" shape-rendering="geometricPrecision"/>
<text transform="translate(150.9,3645.0) scale(0.960,1)" font-family='"Liberation Serif","Times New Roman",Times,serif' font-size="78">-5</text>
<text transform="translate(502.8,3645.0) scale(0.960,1)" font-family='"Liberation Serif","Times New Roman",Times,serif' font-size="78">0</text>
<text transform="translate(839.3,3645.0) scale(0.960,1)" font-family='"Liberation Serif","Times New Roman",Times,serif' font-size="78">5</text>
<text transform="translate(1160.7,3645.0) scale(0.960,1)" font-family='"Liberation Serif","Times New Roman",Times,serif' font-size="78">10</text>
<text transform="translate(1496.4,3645.0) scale(0.960,1)" font-family='"Liberation Serif","Times New Roman",Times,serif' font-size="78">15</text>
<text transform="translate(1833.6,3645.0) scale(0.960,1)" font-family='"Liberation Serif","Times New Roman",Times,serif' font-size="78">20</text>
<text transform="translate(953.8,3779.0) scale(1.000,1)" font-family='"Liberation Serif","Times New Roman",Times,serif' font-size="83">ppm</text>
<text x="926.5" y="3983.4" font-family='"Liberation Serif","Times New Roman",Times,serif' font-size="84">(<tspan font-weight="bold">B</tspan>)</text>
<polyline points="800,2778.5 801.5,2778.5 803,2778.5 804.5,2778.5 806,2778.4 807.5,2778.4 809,2778.4 810.5,2778.3 812,2778.3 813.5,2778.2 815,2778.1 816.5,2778.1 818,2778 819.5,2777.9 821,2777.8 822.5,2777.7 824,2777.6 825,2777.5 825.5,2777.4 827,2777.1 828.5,2776.7 830,2776.1 831.5,2775.6 833,2775.2 834.5,2775 835,2775 836,2775.1 837.6,2775.5 839.1,2776.1 840.6,2776.7 842.1,2777.4 843.6,2777.8 845,2778 845.1,2778 846.6,2778 848.1,2778 849.6,2778 851.1,2778 852.6,2778 854.1,2778 855.6,2778 857.1,2778 858.6,2778 860.1,2778 861.6,2778 863.1,2778 864.6,2778 866.1,2778 867.6,2778 869.1,2778 870.6,2778 872.1,2778 873.6,2778 875.1,2778 876.6,2778 878.1,2778 879.6,2778 881.1,2778 882.6,2778 884.1,2778 885.6,2778 887.1,2778 888.6,2778 890.1,2778 891.6,2778 893.1,2778 894.6,2778 896.1,2778 897.6,2778 899.1,2778 900.6,2778 902.1,2778 903.6,2778 905.1,2778 906.6,2778 908.1,2778 909.6,2778 910,2778 911.2,2778 912.7,2778 914.2,2777.9 915.7,2777.9 917.2,2777.8 918.7,2777.8 920.2,2777.7 921.7,2777.6 923.2,2777.5 924.7,2777.4 926.2,2777.3 927.7,2777.1 929.2,2777 930.7,2776.9 932.2,2776.8 933.7,2776.6 935,2776.5 935.2,2776.5 936.7,2776.3 938.2,2776.2 939.7,2776 941.2,2775.8 942.7,2775.5 944.2,2775.2 945,2775 945.7,2774.8 947.2,2774.2 948.7,2773.4 950.2,2772.3 951.7,2771 953.2,2769.6 954.7,2767.9 955,2767.5 956.2,2765.4 957.7,2761.6 959.2,2757.3 960,2755 960.7,2752.6 962.2,2746.5 963.7,2742.6 964,2742.5 965.2,2744.5 966.7,2750.2 968,2755 968.2,2755.7 969.7,2760.6 971.2,2765.3 972.7,2768.6 973,2769 974.2,2770.4 975.7,2772 977.2,2773.3 978.7,2774.3 980.2,2775.2 981.7,2775.8 982.5,2776 983.2,2776.2 984.7,2776.6 986.3,2776.9 987.8,2777.2 989.3,2777.5 990.8,2777.7 992.3,2777.9 993.8,2778 995,2778 995.3,2778 996.8,2778 998.3,2778 999.8,2778 1001.3,2778 1002.8,2778 1004.3,2778 1005.8,2778 1007.3,2778 1008.8,2778 1010.3,2778 1011.8,2778 1013.3,2778 1014.8,2778 1016.3,2778 1017.8,2778 1019.3,2778 1020.8,2778 1022.3,2778 1023.8,2778 1025.3,2778 1026.8,2778 1028.3,2778 1029.8,2778 1031.3,2778 1032.8,2778 1034.3,2778 1035.8,2778 1037.3,2778 1038.8,2778 1040.3,2778 1041.8,2777.9 1043.3,2777.9 1044.8,2777.9 1046.3,2777.9 1047.8,2777.9 1049.3,2777.9 1050.8,2777.9 1052.3,2777.9 1053.8,2777.9 1055.3,2777.9 1056.8,2777.9 1058.3,2777.9 1059.9,2777.9 1061.4,2777.9 1062.9,2777.9 1064.4,2777.9 1065.9,2777.9 1067.4,2777.9 1068.9,2777.9 1070.4,2777.9 1071.9,2777.9 1073.4,2777.9 1074.9,2777.9 1076.4,2777.8 1077.9,2777.8 1079.4,2777.8 1080.9,2777.8 1082.4,2777.8 1083.9,2777.8 1085.4,2777.8 1086.9,2777.8 1088.4,2777.8 1089.9,2777.8 1091.4,2777.8 1092.9,2777.8 1094.4,2777.8 1095.9,2777.8 1097.4,2777.8 1098.9,2777.8 1100.4,2777.7 1101.9,2777.7 1103.4,2777.7 1104.9,2777.7 1106.4,2777.7 1107.9,2777.7 1109.4,2777.7 1110.9,2777.7 1112.4,2777.7 1113.9,2777.7 1115.4,2777.7 1116.9,2777.7 1118.4,2777.7 1119.9,2777.6 1121.4,2777.6 1122.9,2777.6 1124.4,2777.6 1125.9,2777.6 1127.4,2777.6 1128.9,2777.6 1130.4,2777.6 1131.9,2777.6 1133.5,2777.6 1135,2777.6 1136.5,2777.6 1138,2777.5 1139.5,2777.5 1141,2777.5 1142.5,2777.5 1144,2777.5 1145.5,2777.5 1147,2777.5 1148.5,2777.5 1150,2777.5 1151.5,2777.5 1153,2777.4 1154.5,2777.4 1156,2777.4 1157.5,2777.4 1159,2777.4 1160.5,2777.4 1162,2777.4 1163.5,2777.4 1165,2777.4 1166.5,2777.4 1168,2777.3 1169.5,2777.3 1171,2777.3 1172.5,2777.3 1174,2777.3 1175.5,2777.3 1177,2777.3 1178.5,2777.3 1180,2777.2 1181.5,2777.2 1183,2777.2 1184.5,2777.2 1186,2777.2 1187.5,2777.2 1189,2777.2 1190.5,2777.2 1192,2777.2 1193.5,2777.1 1195,2777.1 1196.5,2777.1 1198,2777.1 1199.5,2777.1 1201,2777.1 1202.5,2777.1 1204,2777.1 1205.5,2777 1207.1,2777 1208.6,2777 1210,2777 1210.1,2777 1211.6,2777 1213.1,2777 1214.6,2777 1216.1,2776.9 1217.6,2776.9 1219.1,2776.9 1220.6,2776.9 1222.1,2776.9 1223.6,2776.8 1225.1,2776.8 1226.6,2776.8 1228.1,2776.7 1229.6,2776.7 1231.1,2776.7 1232.6,2776.7 1234.1,2776.6 1235.6,2776.6 1237.1,2776.6 1238.6,2776.5 1240.1,2776.5 1241.6,2776.4 1243.1,2776.4 1244.6,2776.4 1246.1,2776.3 1247.6,2776.3 1249.1,2776.2 1250.6,2776.2 1252.1,2776.2 1253.6,2776.1 1255.1,2776.1 1256.6,2776 1258.1,2776 1259.6,2775.9 1261.1,2775.9 1262.6,2775.8 1264.1,2775.8 1265.6,2775.7 1267.1,2775.7 1268.6,2775.6 1270.1,2775.6 1271.6,2775.5 1273.1,2775.5 1274.6,2775.4 1276.1,2775.4 1277.6,2775.3 1279.1,2775.2 1280.6,2775.2 1282.2,2775.1 1283.7,2775.1 1285.2,2775 1286.7,2775 1288.2,2774.9 1289.7,2774.8 1291.2,2774.8 1292.7,2774.7 1294.2,2774.7 1295.7,2774.6 1297.2,2774.5 1298.7,2774.5 1300.2,2774.4 1301.7,2774.3 1303.2,2774.3 1304.7,2774.2 1306.2,2774.2 1307.7,2774.1 1309.2,2774 1310,2774 1310.7,2774 1312.2,2773.9 1313.7,2773.8 1315.2,2773.8 1316.7,2773.7 1318.2,2773.6 1319.7,2773.6 1321.2,2773.5 1322.7,2773.4 1324.2,2773.3 1325.7,2773.2 1327.2,2773.2 1328.7,2773.1 1330.2,2773 1331.7,2772.9 1333.2,2772.8 1334.7,2772.7 1336.2,2772.6 1337.7,2772.6 1339.2,2772.5 1340.7,2772.4 1342.2,2772.3 1343.7,2772.2 1345.2,2772.1 1346.7,2772 1348.2,2771.9 1349.7,2771.8 1351.2,2771.7 1352.7,2771.6 1354.2,2771.5 1355.8,2771.3 1357.3,2771.2 1358.8,2771.1 1360.3,2771 1361.8,2770.9 1363.3,2770.8 1364.8,2770.7 1366.3,2770.6 1367.8,2770.4 1369.3,2770.3 1370.8,2770.2 1372.3,2770.1 1373.8,2770 1375.3,2769.8 1376.8,2769.7 1378.3,2769.6 1379.8,2769.4 1381.3,2769.3 1382.8,2769.2 1384.3,2769.1 1385,2769 1385.8,2768.9 1387.3,2768.8 1388.8,2768.7 1390.3,2768.5 1391.8,2768.4 1393.3,2768.2 1394.8,2768.1 1396.3,2768 1397.8,2767.8 1399.3,2767.7 1400.8,2767.5 1402.3,2767.4 1403.8,2767.2 1405.3,2767.1 1406.8,2766.9 1408.3,2766.7 1409.8,2766.6 1411.3,2766.4 1412.8,2766.2 1414.3,2766.1 1415.8,2765.9 1417.3,2765.7 1418.8,2765.5 1420.3,2765.3 1421.8,2765.1 1423.3,2764.9 1424.8,2764.8 1426.3,2764.6 1427.8,2764.4 1429.4,2764.1 1430.9,2763.9 1432.4,2763.7 1433.9,2763.5 1435.4,2763.3 1436.9,2763.1 1438.4,2762.8 1439.9,2762.6 1441.4,2762.4 1442.9,2762.1 1444.4,2761.9 1445.9,2761.6 1447.4,2761.4 1448.9,2761.1 1449.5,2761 1450.4,2760.8 1451.9,2760.6 1453.4,2760.2 1454.9,2759.9 1456.4,2759.6 1457.9,2759.2 1459.4,2758.8 1460.9,2758.4 1462.4,2758 1463.9,2757.6 1465.4,2757.2 1466.9,2756.7 1468.4,2756.3 1469.9,2755.8 1471.4,2755.4 1472.9,2754.9 1474.4,2754.5 1475.9,2754 1477.4,2753.5 1478.9,2753.1 1480.4,2752.6 1481.9,2752.2 1483.4,2751.8 1484.9,2751.3 1486.4,2750.9 1487.9,2750.5 1489.4,2750.1 1490,2750 1490.9,2749.8 1492.4,2749.4 1493.9,2749 1495.4,2748.6 1496.9,2748.2 1498.4,2747.7 1499.9,2747.3 1501.4,2746.9 1502.9,2746.5 1504.5,2746.1 1506,2745.7 1507.5,2745.4 1509,2745 1510.5,2744.6 1512,2744.3 1513.5,2744 1515,2743.7 1516.5,2743.5 1518,2743.3 1519.5,2743.1 1520,2743 1521,2742.9 1522.5,2742.7 1524,2742.6 1525.5,2742.4 1527,2742.3 1528.5,2742.1 1530,2742 1531.5,2741.9 1533,2741.7 1534.5,2741.7 1536,2741.6 1537.5,2741.5 1539,2741.5 1540,2741.5 1540.5,2741.5 1542,2741.5 1543.5,2741.6 1545,2741.7 1546.5,2741.9 1548,2742.1 1549.5,2742.3 1551,2742.5 1552.5,2742.7 1554,2743 1555.5,2743.2 1557,2743.5 1558.5,2743.7 1560,2744 1560,2744 1561.5,2744.3 1563,2744.6 1564.5,2744.9 1566,2745.3 1567.5,2745.7 1569,2746.1 1570.5,2746.6 1572,2747 1573.5,2747.5 1575,2748 1576.5,2748.5 1578.1,2749 1579.6,2749.4 1581.1,2749.9 1582.6,2750.4 1584.1,2750.9 1585.6,2751.3 1587.1,2751.7 1588.6,2752.1 1590,2752.5 1590.1,2752.5 1591.6,2752.9 1593.1,2753.3 1594.6,2753.7 1596.1,2754.1 1597.6,2754.5 1599.1,2754.8 1600.6,2755.2 1602.1,2755.6 1603.6,2756 1605.1,2756.4 1606.6,2756.7 1608.1,2757.1 1609.6,2757.4 1611.1,2757.7 1612.6,2758 1614.1,2758.2 1615.6,2758.5 1617.1,2758.7 1618.6,2758.9 1620,2759 1620.1,2759 1621.6,2759.1 1623.1,2759.3 1624.6,2759.4 1626.1,2759.5 1627.6,2759.6 1629.1,2759.7 1630.6,2759.8 1632.1,2759.9 1633.6,2759.9 1635.1,2760 1636.6,2760 1637.5,2760 1638.1,2760 1639.6,2759.7 1641.1,2759.3 1642.6,2758.6 1644.1,2757.7 1645.6,2756.6 1647.1,2755.3 1647.5,2755 1648.6,2753.2 1650.1,2749.2 1651.7,2743.6 1652.5,2740 1653.2,2736.4 1654.7,2724.3 1656.2,2712.1 1656.5,2710 1657.7,2703 1659.2,2695.5 1660,2694 1660.7,2694.9 1662.2,2701.7 1663.5,2710 1663.7,2711.1 1665.2,2724.8 1666.7,2739.7 1667.5,2745 1668.2,2747.8 1669.7,2753.2 1671.2,2757.5 1672.7,2760.7 1674,2762.5 1674.2,2762.7 1675.7,2764.1 1677.2,2765.3 1678.7,2766.3 1680.2,2767.1 1681.7,2767.8 1683.2,2768.4 1684.7,2768.9 1685,2769 1686.2,2769.3 1687.7,2769.8 1689.2,2770.2 1690.7,2770.5 1692.2,2770.9 1693.7,2771.2 1695.2,2771.5 1696.7,2771.8 1698.2,2772 1699.7,2772.3 1701.2,2772.5 1702.7,2772.7 1704.2,2772.9 1705.7,2773.1 1707.2,2773.2 1708.7,2773.4 1710,2773.5 1710.2,2773.5 1711.7,2773.6 1713.2,2773.8 1714.7,2773.9 1716.2,2774 1717.7,2774.1 1719.2,2774.2 1720.7,2774.3 1722.2,2774.4 1723.7,2774.5 1725.3,2774.6 1726.8,2774.7 1728.3,2774.8 1729.8,2774.8 1731.3,2774.9 1732.8,2775 1734.3,2775.1 1735.8,2775.1 1737.3,2775.2 1738.8,2775.3 1740.3,2775.3 1741.8,2775.4 1743.3,2775.5 1744.8,2775.5 1746.3,2775.6 1747.8,2775.6 1749.3,2775.7 1750.8,2775.7 1752.3,2775.8 1753.8,2775.8 1755.3,2775.9 1756.8,2775.9 1758.3,2776 1759.8,2776 1760,2776 1761.3,2776 1762.8,2776.1 1764.3,2776.1 1765.8,2776.1 1767.3,2776.2 1768.8,2776.2 1770.3,2776.3 1771.8,2776.3 1773.3,2776.3 1774.8,2776.4 1776.3,2776.4 1777.8,2776.4 1779.3,2776.5 1780.8,2776.5 1782.3,2776.5 1783.8,2776.5 1785.3,2776.6 1786.8,2776.6 1788.3,2776.6 1789.8,2776.7 1791.3,2776.7 1792.8,2776.7 1794.3,2776.7 1795.8,2776.8 1797.3,2776.8 1798.8,2776.8 1800.4,2776.8 1801.9,2776.9 1803.4,2776.9 1804.9,2776.9 1806.4,2776.9 1807.9,2777 1809.4,2777 1810.9,2777 1812.4,2777 1813.9,2777.1 1815.4,2777.1 1816.9,2777.1 1818.4,2777.1 1819.9,2777.1 1821.4,2777.2 1822.9,2777.2 1824.4,2777.2 1825.9,2777.2 1827.4,2777.2 1828.9,2777.3 1830.4,2777.3 1831.9,2777.3 1833.4,2777.3 1834.9,2777.3 1836.4,2777.3 1837.9,2777.4 1839.4,2777.4 1840.9,2777.4 1842.4,2777.4 1843.9,2777.4 1845.4,2777.4 1846.9,2777.5 1848.4,2777.5 1849.9,2777.5 1850,2777.5 1851.4,2777.5 1852.9,2777.5 1854.4,2777.5 1855.9,2777.6 1857.4,2777.6 1858.9,2777.6 1860.4,2777.6 1861.9,2777.6 1863.4,2777.6 1864.9,2777.7 1866.4,2777.7 1867.9,2777.7 1869.4,2777.7 1870.9,2777.7 1872.4,2777.7 1874,2777.7 1875.5,2777.8 1877,2777.8 1878.5,2777.8 1880,2777.8 1881.5,2777.8 1883,2777.8 1884.5,2777.8 1886,2777.8 1887.5,2777.9 1889,2777.9 1890.5,2777.9 1892,2777.9 1893.5,2777.9 1895,2777.9 1896.5,2777.9 1898,2777.9 1899.5,2777.9 1901,2777.9 1902.5,2778 1904,2778 1905.5,2778 1907,2778 1908.5,2778 1910,2778" fill="none" stroke="#000" stroke-width="2" stroke-linejoin="round"/>
<rect x="799" y="2832.8" width="1112" height="4.4" fill="#000"/>
<rect x="948.8" y="2834" width="4.4" height="10.5" fill="#000"/>
<rect x="1200.5" y="2834" width="5" height="16.0" fill="#000"/>
<rect x="1452.8" y="2834" width="4.4" height="10.5" fill="#000"/>
<rect x="1704.5" y="2834" width="5" height="16.0" fill="#000"/>
<text transform="translate(1171.8,2886.9) scale(1.242,1)" font-family='"Liberation Serif","Times New Roman",Times,serif' font-size="40.6">3.0</text>
<text transform="translate(1675.5,2886.9) scale(1.242,1)" font-family='"Liberation Serif","Times New Roman",Times,serif' font-size="40.6">3.5</text>
<text transform="translate(1306.2,2956.4) scale(1.340,1)" font-family='"Liberation Serif","Times New Roman",Times,serif' font-size="40.6" stroke="#000" stroke-width="0.3">ppm</text>
</g>
</svg>
</body>
</html>
